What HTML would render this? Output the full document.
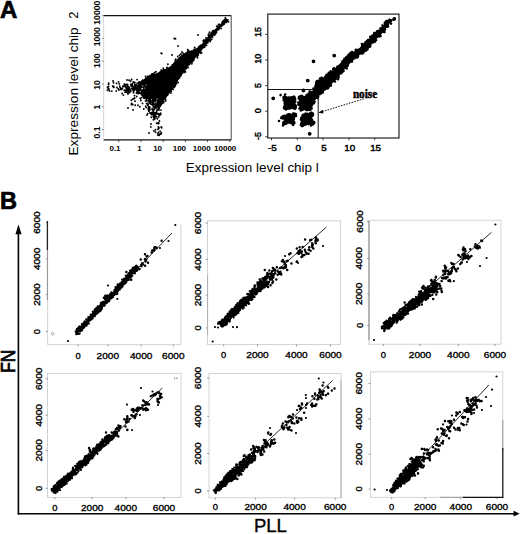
<!DOCTYPE html>
<html><head><meta charset="utf-8"><style>
html,body{margin:0;padding:0;background:#fff;}
body{width:520px;height:534px;overflow:hidden;}
svg{display:block;}
</style></head><body>
<svg width="520" height="534" viewBox="0 0 520 534">
<rect width="520" height="534" fill="#fff"/>
<text x="0.1" y="18.3" font-size="24.0" text-anchor="start" font-weight="bold" fill="#000" font-family="Liberation Sans, sans-serif" stroke="#000" stroke-width="0.7">A</text>
<text x="-0.1" y="208.6" font-size="23.5" text-anchor="start" font-weight="bold" fill="#000" font-family="Liberation Sans, sans-serif" stroke="#000" stroke-width="0.7">B</text>
<line x1="103.6" y1="15.6" x2="231.2" y2="15.6" stroke="#111" stroke-width="1.3"/>
<line x1="103.6" y1="139.9" x2="231.2" y2="139.9" stroke="#111" stroke-width="1.3"/>
<line x1="231.2" y1="15.6" x2="231.2" y2="139.9" stroke="#444" stroke-width="1.0"/>
<line x1="103.6" y1="15.6" x2="103.6" y2="139.9" stroke="#ccc" stroke-width="0.8"/>
<line x1="118.8" y1="139.9" x2="118.8" y2="142.1" stroke="#333" stroke-width="0.9"/>
<line x1="141.0" y1="139.9" x2="141.0" y2="142.1" stroke="#333" stroke-width="0.9"/>
<line x1="163.2" y1="139.9" x2="163.2" y2="142.1" stroke="#333" stroke-width="0.9"/>
<line x1="185.4" y1="139.9" x2="185.4" y2="142.1" stroke="#333" stroke-width="0.9"/>
<line x1="207.6" y1="139.9" x2="207.6" y2="142.1" stroke="#333" stroke-width="0.9"/>
<line x1="229.8" y1="139.9" x2="229.8" y2="142.1" stroke="#333" stroke-width="0.9"/>
<text x="115.0" y="151.0" font-size="8.0" text-anchor="middle" font-weight="bold" fill="#000" font-family="Liberation Sans, sans-serif">0.1</text>
<text x="139.6" y="151.0" font-size="8.0" text-anchor="middle" font-weight="bold" fill="#000" font-family="Liberation Sans, sans-serif">1</text>
<text x="157.6" y="151.0" font-size="8.0" text-anchor="middle" font-weight="bold" fill="#000" font-family="Liberation Sans, sans-serif">10</text>
<text x="179.4" y="151.0" font-size="8.0" text-anchor="middle" font-weight="bold" fill="#000" font-family="Liberation Sans, sans-serif">100</text>
<text x="201.7" y="151.0" font-size="8.0" text-anchor="middle" font-weight="bold" fill="#000" font-family="Liberation Sans, sans-serif">1000</text>
<text x="225.2" y="151.0" font-size="8.0" text-anchor="middle" font-weight="bold" fill="#000" font-family="Liberation Sans, sans-serif">10000</text>
<line x1="102.1" y1="129.6" x2="103.6" y2="129.6" stroke="#666" stroke-width="0.9"/>
<line x1="102.1" y1="106.8" x2="103.6" y2="106.8" stroke="#666" stroke-width="0.9"/>
<line x1="102.1" y1="84.0" x2="103.6" y2="84.0" stroke="#666" stroke-width="0.9"/>
<line x1="102.1" y1="61.199999999999996" x2="103.6" y2="61.199999999999996" stroke="#666" stroke-width="0.9"/>
<line x1="102.1" y1="38.39999999999999" x2="103.6" y2="38.39999999999999" stroke="#666" stroke-width="0.9"/>
<line x1="102.1" y1="15.599999999999994" x2="103.6" y2="15.599999999999994" stroke="#666" stroke-width="0.9"/>
<text x="99.6" y="132.5" font-size="8.6" text-anchor="middle" font-weight="bold" fill="#000" font-family="Liberation Sans, sans-serif" transform="rotate(-90 99.6 132.5)">0.1</text>
<text x="99.6" y="107.0" font-size="8.6" text-anchor="middle" font-weight="bold" fill="#000" font-family="Liberation Sans, sans-serif" transform="rotate(-90 99.6 107.0)">1</text>
<text x="99.6" y="85.0" font-size="8.6" text-anchor="middle" font-weight="bold" fill="#000" font-family="Liberation Sans, sans-serif" transform="rotate(-90 99.6 85.0)">10</text>
<text x="99.6" y="60.7" font-size="8.6" text-anchor="middle" font-weight="bold" fill="#000" font-family="Liberation Sans, sans-serif" transform="rotate(-90 99.6 60.7)">100</text>
<text x="99.6" y="36.8" font-size="8.6" text-anchor="middle" font-weight="bold" fill="#000" font-family="Liberation Sans, sans-serif" transform="rotate(-90 99.6 36.8)">1000</text>
<text x="99.6" y="12.7" font-size="8.6" text-anchor="middle" font-weight="bold" fill="#000" font-family="Liberation Sans, sans-serif" transform="rotate(-90 99.6 12.7)">10000</text>
<text x="78.3" y="155.5" font-size="12.6" text-anchor="start" font-weight="normal" fill="#000" font-family="Liberation Sans, sans-serif" transform="rotate(-90 78.3 155.5)" textLength="128.2" lengthAdjust="spacingAndGlyphs">Expression level chip</text>
<text x="78.3" y="18.7" font-size="12.6" text-anchor="start" font-weight="normal" fill="#000" font-family="Liberation Sans, sans-serif" transform="rotate(-90 78.3 18.7)" textLength="7.2" lengthAdjust="spacingAndGlyphs">2</text>
<text x="185.8" y="171.5" font-size="12.6" text-anchor="start" font-weight="normal" fill="#000" font-family="Liberation Sans, sans-serif" textLength="133" lengthAdjust="spacingAndGlyphs">Expression level chip l</text>
<rect x="267.8" y="14.1" width="131.2" height="123.9" fill="none" stroke="#111" stroke-width="1.1"/>
<polyline points="267.8,89.5 318.2,89.5 318.2,138.0" fill="none" stroke="#111" stroke-width="1.0"/>
<line x1="271.5" y1="138.0" x2="271.5" y2="140.2" stroke="#222" stroke-width="0.9"/>
<text x="272.4" y="150.8" font-size="9.8" text-anchor="middle" font-weight="normal" fill="#000" font-family="Liberation Sans, sans-serif" stroke="#000" stroke-width="0.45">-5</text>
<line x1="297.3" y1="138.0" x2="297.3" y2="140.2" stroke="#222" stroke-width="0.9"/>
<text x="298.2" y="150.8" font-size="9.8" text-anchor="middle" font-weight="normal" fill="#000" font-family="Liberation Sans, sans-serif" stroke="#000" stroke-width="0.45">0</text>
<line x1="323.1" y1="138.0" x2="323.1" y2="140.2" stroke="#222" stroke-width="0.9"/>
<text x="324.0" y="150.8" font-size="9.8" text-anchor="middle" font-weight="normal" fill="#000" font-family="Liberation Sans, sans-serif" stroke="#000" stroke-width="0.45">5</text>
<line x1="348.90000000000003" y1="138.0" x2="348.90000000000003" y2="140.2" stroke="#222" stroke-width="0.9"/>
<text x="349.8" y="150.8" font-size="9.8" text-anchor="middle" font-weight="normal" fill="#000" font-family="Liberation Sans, sans-serif" stroke="#000" stroke-width="0.45">10</text>
<line x1="374.70000000000005" y1="138.0" x2="374.70000000000005" y2="140.2" stroke="#222" stroke-width="0.9"/>
<text x="375.6" y="150.8" font-size="9.8" text-anchor="middle" font-weight="normal" fill="#000" font-family="Liberation Sans, sans-serif" stroke="#000" stroke-width="0.45">15</text>
<line x1="265.2" y1="136.8" x2="267.8" y2="136.8" stroke="#222" stroke-width="0.9"/>
<text x="261.0" y="136" font-size="9.0" text-anchor="middle" font-weight="normal" fill="#000" font-family="Liberation Sans, sans-serif" transform="rotate(-90 261.0 136)" stroke="#000" stroke-width="0.45">-5</text>
<line x1="265.2" y1="111.2" x2="267.8" y2="111.2" stroke="#222" stroke-width="0.9"/>
<text x="261.0" y="110.8" font-size="9.0" text-anchor="middle" font-weight="normal" fill="#000" font-family="Liberation Sans, sans-serif" transform="rotate(-90 261.0 110.8)" stroke="#000" stroke-width="0.45">0</text>
<line x1="265.2" y1="85.6" x2="267.8" y2="85.6" stroke="#222" stroke-width="0.9"/>
<text x="261.0" y="85.5" font-size="9.0" text-anchor="middle" font-weight="normal" fill="#000" font-family="Liberation Sans, sans-serif" transform="rotate(-90 261.0 85.5)" stroke="#000" stroke-width="0.45">5</text>
<line x1="265.2" y1="60.0" x2="267.8" y2="60.0" stroke="#222" stroke-width="0.9"/>
<text x="261.0" y="58.8" font-size="9.0" text-anchor="middle" font-weight="normal" fill="#000" font-family="Liberation Sans, sans-serif" transform="rotate(-90 261.0 58.8)" stroke="#000" stroke-width="0.45">10</text>
<line x1="265.2" y1="34.400000000000006" x2="267.8" y2="34.400000000000006" stroke="#222" stroke-width="0.9"/>
<text x="261.0" y="32" font-size="9.0" text-anchor="middle" font-weight="normal" fill="#000" font-family="Liberation Sans, sans-serif" transform="rotate(-90 261.0 32)" stroke="#000" stroke-width="0.45">15</text>
<text x="352.9" y="97.6" font-size="11.6" text-anchor="start" font-weight="bold" fill="#000" font-family="Liberation Serif, serif" textLength="24.2" lengthAdjust="spacingAndGlyphs" stroke="#000" stroke-width="0.45">noise</text>
<line x1="363.8" y1="98.8" x2="321.0" y2="112.0" stroke="#111" stroke-width="1.0" stroke-dasharray="1.6 1.2"/>
<polygon points="318.3,112.8 322.8,109.8 323.4,113.6" fill="#000"/>
<line x1="18.4" y1="232" x2="18.4" y2="514.4" stroke="#000" stroke-width="1.6"/>
<polygon points="18.5,224.6 15.4,234.2 21.6,234.2" fill="#000"/>
<line x1="17.6" y1="513.7" x2="514.5" y2="513.7" stroke="#000" stroke-width="1.6"/>
<polygon points="519.6,513.7 513.6,510.8 513.6,516.6" fill="#000"/>
<text x="15.4" y="361.3" font-size="19.5" text-anchor="middle" font-weight="normal" fill="#000" font-family="Liberation Sans, sans-serif" transform="rotate(-90 15.4 361.3)" textLength="23.0" lengthAdjust="spacingAndGlyphs" stroke="#000" stroke-width="0.75">FN</text>
<text x="253.9" y="532.3" font-size="19.2" text-anchor="start" font-weight="normal" fill="#000" font-family="Liberation Sans, sans-serif" textLength="33.0" lengthAdjust="spacingAndGlyphs" stroke="#000" stroke-width="0.4">PLL</text>
<polyline points="47.6,221.5 47.6,344.6 180.9,344.6 180.9,224.5" fill="none" stroke="#c8c8c8" stroke-width="0.8"/>
<text x="78.2" y="358.6" font-size="9.3" text-anchor="middle" font-weight="normal" fill="#000" font-family="Liberation Sans, sans-serif" stroke="#000" stroke-width="0.35">0</text>
<line x1="78.2" y1="344.6" x2="78.2" y2="346.40000000000003" stroke="#777" stroke-width="0.8"/>
<text x="107.8" y="358.6" font-size="9.3" text-anchor="middle" font-weight="normal" fill="#000" font-family="Liberation Sans, sans-serif" textLength="22.4" lengthAdjust="spacingAndGlyphs" stroke="#000" stroke-width="0.35">2000</text>
<line x1="107.8" y1="344.6" x2="107.8" y2="346.40000000000003" stroke="#777" stroke-width="0.8"/>
<text x="141.2" y="358.6" font-size="9.3" text-anchor="middle" font-weight="normal" fill="#000" font-family="Liberation Sans, sans-serif" textLength="22.4" lengthAdjust="spacingAndGlyphs" stroke="#000" stroke-width="0.35">4000</text>
<line x1="141.2" y1="344.6" x2="141.2" y2="346.40000000000003" stroke="#777" stroke-width="0.8"/>
<text x="173.3" y="358.6" font-size="9.3" text-anchor="middle" font-weight="normal" fill="#000" font-family="Liberation Sans, sans-serif" textLength="22.4" lengthAdjust="spacingAndGlyphs" stroke="#000" stroke-width="0.35">6000</text>
<line x1="173.3" y1="344.6" x2="173.3" y2="346.40000000000003" stroke="#777" stroke-width="0.8"/>
<text x="40.0" y="331.6" font-size="9.3" text-anchor="middle" font-weight="normal" fill="#000" font-family="Liberation Sans, sans-serif" transform="rotate(-90 40.0 331.6)" stroke="#000" stroke-width="0.35">0</text>
<line x1="45.800000000000004" y1="331.6" x2="47.6" y2="331.6" stroke="#777" stroke-width="0.8"/>
<text x="40.0" y="294.6" font-size="9.3" text-anchor="middle" font-weight="normal" fill="#000" font-family="Liberation Sans, sans-serif" transform="rotate(-90 40.0 294.6)" textLength="22.4" lengthAdjust="spacingAndGlyphs" stroke="#000" stroke-width="0.35">2000</text>
<line x1="45.800000000000004" y1="294.6" x2="47.6" y2="294.6" stroke="#777" stroke-width="0.8"/>
<text x="40.0" y="258.9" font-size="9.3" text-anchor="middle" font-weight="normal" fill="#000" font-family="Liberation Sans, sans-serif" transform="rotate(-90 40.0 258.9)" textLength="22.4" lengthAdjust="spacingAndGlyphs" stroke="#000" stroke-width="0.35">4000</text>
<line x1="45.800000000000004" y1="258.9" x2="47.6" y2="258.9" stroke="#777" stroke-width="0.8"/>
<text x="40.0" y="222.6" font-size="9.3" text-anchor="middle" font-weight="normal" fill="#000" font-family="Liberation Sans, sans-serif" transform="rotate(-90 40.0 222.6)" textLength="22.4" lengthAdjust="spacingAndGlyphs" stroke="#000" stroke-width="0.35">6000</text>
<line x1="45.800000000000004" y1="222.6" x2="47.6" y2="222.6" stroke="#777" stroke-width="0.8"/>
<path d="M125.6 278.4h0M112.6 295.4h0M94.8 316.3h0M77.3 330.0h0M133.8 269.2h0M110.6 293.6h0M123.9 282.3h0M132.4 275.5h0M116.0 287.4h0M87.4 321.5h0M136.7 270.9h0M92.5 314.7h0M114.4 293.0h0M111.4 296.2h0M111.5 294.0h0M109.0 299.5h0M136.1 268.6h0M106.0 300.8h0M122.0 282.9h0M106.9 302.5h0M136.0 268.3h0M134.0 268.8h0M99.1 307.6h0M95.6 313.0h0M128.1 277.5h0M122.7 280.1h0M118.3 289.1h0M99.4 306.0h0M97.7 306.7h0M83.6 325.0h0M113.8 293.0h0M81.9 329.4h0M91.4 314.9h0M115.0 290.4h0M77.9 333.9h0M126.0 278.9h0M81.4 330.2h0M108.1 300.0h0M107.4 296.7h0M88.9 318.3h0M134.2 271.7h0M94.6 309.8h0M107.1 301.4h0M127.9 276.6h0M114.6 289.9h0M101.0 310.3h0M80.9 326.9h0M132.8 270.4h0M111.1 294.8h0M110.6 295.3h0M112.4 295.1h0M85.3 324.5h0M107.7 295.3h0M110.9 297.8h0M111.9 296.6h0M88.0 322.6h0M119.1 287.6h0M78.7 328.1h0M96.2 313.2h0M82.0 326.6h0M119.9 283.7h0M106.1 300.9h0M104.6 303.8h0M79.5 328.3h0M101.5 303.9h0M90.0 319.8h0M95.2 314.9h0M99.1 307.5h0M118.6 287.5h0M123.2 282.1h0M98.7 311.6h0M116.5 290.0h0M104.9 298.8h0M115.5 289.0h0M97.0 313.3h0M131.2 275.9h0M117.0 291.4h0M87.3 321.2h0M109.7 295.3h0M121.6 285.2h0M122.7 282.4h0M102.0 304.9h0M92.0 315.0h0M113.3 293.6h0M119.0 285.1h0M106.1 300.2h0M89.0 323.5h0M112.8 293.4h0M122.8 284.9h0M131.1 273.8h0M136.1 268.7h0M98.3 309.9h0M126.2 282.5h0M117.7 288.8h0M134.6 270.0h0M106.7 300.6h0M127.2 276.8h0M107.4 301.8h0M92.5 314.3h0M132.2 269.3h0M93.3 315.5h0M95.1 313.9h0M78.4 329.0h0M76.3 334.2h0M96.5 311.4h0M90.7 314.7h0M117.7 284.3h0M77.2 333.3h0M129.5 275.2h0M125.8 280.8h0M129.3 272.8h0M123.2 284.4h0M115.6 290.7h0M122.3 284.0h0M130.6 277.6h0M127.2 277.6h0M92.1 316.0h0M132.7 270.8h0M134.2 267.3h0M117.5 288.1h0M111.4 292.3h0M111.8 292.6h0M115.5 287.2h0M131.1 274.8h0M94.5 313.5h0M101.2 308.6h0M94.4 312.7h0M119.0 286.0h0M77.4 331.1h0M99.3 306.5h0M101.9 308.8h0M97.7 306.3h0M111.3 297.6h0M91.9 318.8h0M129.1 274.8h0M98.8 309.2h0M134.9 272.1h0M131.8 272.6h0M95.0 309.3h0M97.5 309.1h0M114.4 294.2h0M98.9 307.0h0M83.7 328.0h0M92.5 315.0h0M87.9 322.4h0M100.8 305.8h0M128.8 274.7h0M103.8 302.8h0M76.8 329.2h0M122.6 283.8h0M125.8 275.5h0M128.9 275.6h0M100.0 305.4h0M94.1 314.8h0M135.5 270.9h0M98.8 308.9h0M109.2 296.9h0M135.1 269.5h0M127.6 278.2h0M130.3 275.9h0M130.7 272.9h0M119.8 288.1h0M94.6 311.5h0M87.2 321.4h0M122.6 286.5h0M110.6 296.4h0M81.8 329.1h0M128.3 277.3h0M81.8 328.2h0M128.5 279.9h0M124.0 281.3h0M133.3 268.1h0M92.4 315.6h0M77.8 332.4h0M106.5 299.4h0M131.5 271.9h0M134.0 272.6h0M97.8 311.1h0M101.0 309.5h0M134.0 270.8h0M124.1 279.0h0M132.1 271.9h0M124.3 280.4h0M106.3 300.1h0M85.0 325.6h0M105.7 298.0h0M81.3 327.9h0M124.5 283.7h0M117.5 286.3h0M111.6 296.3h0M97.5 310.5h0M118.0 284.7h0M101.3 304.4h0M104.0 305.8h0M112.1 293.0h0M112.7 293.8h0M89.0 319.6h0M119.1 284.5h0M88.1 322.9h0M124.6 282.3h0M93.6 315.4h0M105.7 301.1h0M116.7 287.6h0M102.0 303.6h0M106.3 302.5h0M79.3 326.5h0M123.4 283.7h0M103.0 304.9h0M109.6 298.0h0M88.1 320.7h0M114.8 289.5h0M78.9 329.2h0M86.6 322.1h0M117.7 289.0h0M119.2 288.8h0M106.9 300.6h0M90.0 319.6h0M133.1 269.8h0M81.8 329.3h0M91.1 318.4h0M125.1 283.5h0M123.5 283.7h0M111.4 295.1h0M106.4 298.5h0M98.3 312.5h0M84.7 322.7h0M115.0 291.7h0M101.0 308.5h0M123.2 283.6h0M84.6 322.6h0M99.5 306.3h0M114.5 293.8h0M103.0 305.7h0M79.6 333.8h0M107.7 297.7h0M79.8 326.7h0M75.9 331.9h0M88.3 318.8h0M86.6 321.6h0M120.2 286.0h0M118.3 288.1h0M123.2 281.6h0M123.0 280.9h0M133.4 271.4h0M102.5 303.9h0M129.0 277.5h0M114.3 291.3h0M114.3 290.8h0M87.3 323.9h0M129.6 277.3h0M121.4 287.2h0M111.8 292.9h0M94.3 315.9h0M92.8 318.2h0M117.5 288.8h0M123.9 279.6h0M123.7 281.3h0M77.7 333.4h0M129.8 275.1h0M107.2 299.9h0M90.0 320.5h0M121.5 287.7h0M123.7 284.4h0M130.9 272.0h0M102.0 302.4h0M114.3 295.1h0M135.6 271.1h0M101.6 305.8h0M81.9 324.4h0M121.4 286.8h0M124.8 279.4h0M108.9 296.3h0M103.7 303.2h0M90.0 318.8h0M131.7 269.8h0M128.3 274.1h0M78.7 331.0h0M84.5 324.7h0M101.5 303.0h0M113.0 297.1h0M113.9 294.6h0M95.9 313.1h0M87.5 322.6h0M78.2 327.8h0M128.3 276.6h0M113.5 293.7h0M97.6 310.4h0M124.0 281.8h0M124.4 281.9h0M106.6 303.2h0M123.8 283.5h0M125.5 278.6h0M101.9 307.6h0M76.8 332.2h0M118.7 287.4h0M92.6 316.4h0M88.5 320.3h0M87.6 320.9h0M111.0 296.1h0M77.0 333.6h0M122.1 279.5h0M102.5 304.6h0M93.4 313.3h0M121.0 287.4h0M135.2 269.2h0M96.6 309.9h0M114.6 292.4h0M95.6 312.7h0M107.2 300.7h0M100.8 302.9h0M121.0 283.8h0M90.0 316.7h0M109.5 299.8h0M77.3 334.0h0M124.0 280.7h0M97.4 310.2h0M102.2 305.0h0M91.7 315.8h0M85.4 321.8h0M88.3 318.0h0M103.6 305.8h0M128.2 274.7h0M116.0 290.7h0M99.8 309.4h0M85.4 324.7h0M117.8 287.9h0M122.9 283.5h0M125.0 279.0h0M82.8 324.6h0M83.4 327.5h0M112.3 295.3h0M130.1 276.6h0M118.8 286.9h0M132.7 267.9h0M133.2 270.2h0M122.2 281.8h0M85.0 326.0h0M99.0 307.1h0M118.3 289.2h0M121.5 284.4h0M118.3 288.1h0M128.7 276.6h0M128.6 277.3h0M119.7 284.0h0M101.0 308.8h0M84.6 321.4h0M100.9 305.2h0M87.2 320.3h0M106.1 302.3h0M90.7 316.3h0M86.6 325.7h0M130.2 272.6h0M109.2 301.2h0M123.6 282.9h0M127.8 278.7h0M111.7 295.5h0M108.3 300.2h0M121.5 282.6h0M84.1 322.5h0M97.6 311.9h0M127.0 279.2h0M124.3 280.7h0M81.0 328.1h0M130.7 273.6h0M92.0 316.8h0M111.0 297.3h0M88.7 319.4h0M80.9 329.3h0M129.4 277.5h0M118.9 286.5h0M80.3 330.5h0M121.4 283.0h0M119.6 286.2h0M130.4 273.7h0M134.5 271.9h0M131.1 272.8h0M95.5 310.4h0M109.7 297.5h0M127.5 276.5h0M92.7 318.3h0M122.6 283.5h0M104.0 302.5h0M93.8 312.4h0M78.8 331.1h0M111.0 295.2h0M135.1 268.7h0M83.1 326.4h0M117.0 292.7h0M119.1 285.2h0M114.2 292.5h0M126.6 280.0h0M109.7 299.3h0M98.2 309.4h0M90.4 318.7h0M117.1 288.4h0M100.1 311.3h0M125.5 278.5h0M111.2 295.9h0M89.0 318.3h0M106.6 301.7h0M78.8 329.7h0M82.2 330.3h0M104.1 302.1h0M111.2 295.1h0M134.7 269.4h0M77.6 332.9h0M94.3 312.8h0M88.4 317.0h0M96.4 308.0h0M84.3 324.5h0M84.2 327.1h0M90.9 319.7h0M85.9 324.0h0M113.2 295.0h0M103.0 304.3h0M130.9 273.4h0M129.5 276.2h0M122.5 285.5h0M122.1 286.0h0M103.7 304.4h0M108.4 295.9h0M111.6 293.7h0M130.1 270.7h0M92.5 317.9h0M111.9 294.5h0M134.8 271.9h0M118.1 290.3h0M112.3 293.8h0M93.5 316.0h0M101.5 306.0h0M105.1 299.2h0M83.5 326.7h0M95.2 313.3h0M105.0 302.5h0M116.9 292.2h0M132.4 270.3h0M75.7 331.4h0M103.9 305.2h0M81.4 330.5h0M115.8 291.4h0M85.8 323.5h0M94.0 314.8h0M109.0 298.2h0M122.5 283.1h0M100.1 307.0h0M91.6 319.2h0M92.9 314.4h0M101.0 304.1h0M119.6 286.1h0M128.3 275.2h0M134.1 268.4h0M131.5 274.0h0M132.5 269.7h0M103.5 302.0h0M98.8 307.8h0M103.9 301.7h0M98.9 308.0h0M109.2 296.9h0M110.3 293.9h0M79.2 327.9h0M137.6 269.9h0M121.3 284.5h0M90.3 317.5h0M119.1 287.5h0M134.8 269.7h0M104.9 302.5h0M88.0 320.1h0M109.3 296.8h0M98.7 308.2h0M118.0 290.9h0M83.9 324.8h0M123.0 283.2h0M88.4 321.4h0M117.5 285.0h0M80.2 331.5h0M126.8 278.6h0M82.2 323.8h0M119.6 288.8h0M104.9 304.0h0M92.7 316.1h0M110.3 295.1h0M131.3 271.5h0M106.3 300.4h0M129.6 274.2h0M128.0 278.6h0M97.5 311.5h0M124.3 282.9h0M120.0 285.9h0M104.1 302.8h0M123.6 281.2h0M120.3 284.8h0M80.7 328.6h0M127.4 278.1h0M101.8 306.1h0M129.4 275.3h0M131.5 276.7h0M101.3 306.4h0M88.0 321.4h0M91.6 316.5h0M124.7 282.3h0M98.9 310.4h0M129.0 275.9h0M98.2 311.6h0M86.2 324.0h0M124.2 278.6h0M103.1 301.8h0M118.4 285.6h0M121.4 284.2h0M84.0 323.8h0M117.7 285.1h0M78.2 330.3h0M112.0 294.3h0M130.2 274.2h0M88.7 320.2h0M115.1 290.6h0M130.1 274.8h0M126.6 277.9h0M82.7 325.1h0M108.4 295.8h0M83.7 325.4h0M96.7 312.2h0M107.1 298.5h0M125.6 278.3h0M132.9 272.9h0M104.7 305.6h0M96.7 313.9h0M89.9 317.6h0M84.4 323.3h0M114.2 291.4h0M85.5 323.8h0M110.3 296.8h0M95.9 308.5h0M80.7 331.2h0M92.3 317.7h0M97.9 309.0h0M84.3 325.8h0M91.9 315.2h0M107.8 298.8h0M111.8 297.2h0M79.7 327.4h0M83.7 324.4h0M104.2 301.9h0M82.6 326.0h0M103.5 304.2h0M123.7 281.3h0M111.5 298.3h0M92.9 313.6h0M111.3 296.5h0M79.4 329.5h0M103.6 304.3h0M119.9 285.4h0M88.8 319.2h0M129.1 274.5h0M114.9 290.6h0M77.1 330.8h0M123.5 280.5h0M92.8 311.7h0M116.9 288.4h0M130.5 272.4h0M112.4 293.3h0M88.7 318.4h0M108.1 300.6h0M134.5 269.3h0M103.5 303.4h0M80.8 331.1h0M126.5 276.6h0M131.5 273.2h0M84.1 322.6h0M82.2 325.5h0M109.6 295.5h0M116.9 292.3h0M123.5 280.5h0M112.1 295.7h0M79.6 331.1h0M107.4 302.2h0M123.2 281.7h0M126.3 276.3h0M124.2 278.9h0M97.5 313.1h0M113.7 293.8h0M127.1 280.6h0M130.8 276.8h0M96.6 312.1h0M78.9 330.9h0M114.1 293.3h0M94.8 311.0h0M88.1 320.1h0M92.9 315.5h0M104.1 304.7h0M79.2 327.3h0M86.2 319.4h0M84.3 327.2h0M113.4 294.0h0M76.3 332.9h0M90.9 316.7h0M84.1 325.1h0M79.2 327.4h0M124.5 279.1h0M82.9 328.3h0M128.9 277.7h0M175.3 225.0h0M168.5 241.0h0M108.0 285.5h0M117.3 299.0h0M131.0 270.8h0M68.0 341.0h0M160.0 248.0h0" stroke="#000" stroke-width="2.2" stroke-linecap="round" fill="none" opacity="1"/>
<path d="M141.4 266.3h0M139.5 268.9h0M152.3 250.6h0M154.1 250.6h0M154.2 249.4h0M145.1 265.8h0M143.1 264.3h0M137.7 267.1h0M136.6 266.0h0M136.9 267.7h0M137.8 268.2h0M146.3 259.8h0M145.2 259.8h0M145.0 259.3h0M144.9 259.3h0M151.7 252.4h0M145.0 254.3h0M155.7 247.5h0M155.4 247.2h0M154.4 247.4h0M156.9 248.1h0M161.6 240.7h0M145.6 261.4h0M148.0 262.7h0M140.8 259.4h0M147.4 256.0h0M146.6 256.6h0M134.8 267.5h0M136.4 267.0h0M135.0 268.6h0M136.1 266.1h0M142.0 263.4h0M142.1 264.2h0M142.1 263.6h0M141.1 265.2h0M105.1 298.2h0M103.9 297.7h0M118.4 289.2h0M116.1 289.1h0M132.4 272.4h0M134.7 273.2h0M120.4 283.9h0M121.9 281.9h0M130.4 279.4h0M131.2 279.8h0M117.1 293.3h0M117.1 291.3h0M116.2 294.0h0M108.8 298.4h0M108.5 296.9h0M106.8 296.0h0M105.3 295.8h0M129.1 276.8h0M128.0 275.5h0M129.5 273.3h0M126.4 272.1h0M113.2 294.4h0M113.2 295.2h0M122.1 283.6h0M123.2 281.9h0M117.3 293.5h0M116.3 292.2h0M116.2 289.9h0M119.6 289.5h0M126.8 277.2h0M128.0 274.9h0M127.7 278.1h0M107.0 296.2h0M107.2 297.1h0" stroke="#000" stroke-width="2.5" stroke-linecap="round" fill="none" opacity="1"/>
<line x1="105" y1="302" x2="172" y2="233" stroke="#111" stroke-width="0.9"/>
<rect x="207.6" y="220.8" width="132.79999999999998" height="123.80000000000001" fill="none" stroke="#c8c8c8" stroke-width="0.8"/>
<text x="223.7" y="358.4" font-size="9.3" text-anchor="middle" font-weight="normal" fill="#000" font-family="Liberation Sans, sans-serif" stroke="#000" stroke-width="0.35">0</text>
<line x1="223.7" y1="344.6" x2="223.7" y2="346.40000000000003" stroke="#777" stroke-width="0.8"/>
<text x="257.5" y="358.4" font-size="9.3" text-anchor="middle" font-weight="normal" fill="#000" font-family="Liberation Sans, sans-serif" textLength="22.4" lengthAdjust="spacingAndGlyphs" stroke="#000" stroke-width="0.35">2000</text>
<line x1="257.5" y1="344.6" x2="257.5" y2="346.40000000000003" stroke="#777" stroke-width="0.8"/>
<text x="296.5" y="358.4" font-size="9.3" text-anchor="middle" font-weight="normal" fill="#000" font-family="Liberation Sans, sans-serif" textLength="22.4" lengthAdjust="spacingAndGlyphs" stroke="#000" stroke-width="0.35">4000</text>
<line x1="296.5" y1="344.6" x2="296.5" y2="346.40000000000003" stroke="#777" stroke-width="0.8"/>
<text x="330.5" y="358.4" font-size="9.3" text-anchor="middle" font-weight="normal" fill="#000" font-family="Liberation Sans, sans-serif" textLength="22.4" lengthAdjust="spacingAndGlyphs" stroke="#000" stroke-width="0.35">6000</text>
<line x1="330.5" y1="344.6" x2="330.5" y2="346.40000000000003" stroke="#777" stroke-width="0.8"/>
<text x="201.4" y="328.0" font-size="9.3" text-anchor="middle" font-weight="normal" fill="#000" font-family="Liberation Sans, sans-serif" transform="rotate(-90 201.4 328.0)" stroke="#000" stroke-width="0.35">0</text>
<line x1="205.79999999999998" y1="328.0" x2="207.6" y2="328.0" stroke="#777" stroke-width="0.8"/>
<text x="201.4" y="295.1" font-size="9.3" text-anchor="middle" font-weight="normal" fill="#000" font-family="Liberation Sans, sans-serif" transform="rotate(-90 201.4 295.1)" textLength="22.4" lengthAdjust="spacingAndGlyphs" stroke="#000" stroke-width="0.35">2000</text>
<line x1="205.79999999999998" y1="295.1" x2="207.6" y2="295.1" stroke="#777" stroke-width="0.8"/>
<text x="201.4" y="259.5" font-size="9.3" text-anchor="middle" font-weight="normal" fill="#000" font-family="Liberation Sans, sans-serif" transform="rotate(-90 201.4 259.5)" textLength="22.4" lengthAdjust="spacingAndGlyphs" stroke="#000" stroke-width="0.35">4000</text>
<line x1="205.79999999999998" y1="259.5" x2="207.6" y2="259.5" stroke="#777" stroke-width="0.8"/>
<text x="201.4" y="223.0" font-size="9.3" text-anchor="middle" font-weight="normal" fill="#000" font-family="Liberation Sans, sans-serif" transform="rotate(-90 201.4 223.0)" textLength="22.4" lengthAdjust="spacingAndGlyphs" stroke="#000" stroke-width="0.35">6000</text>
<line x1="205.79999999999998" y1="223.0" x2="207.6" y2="223.0" stroke="#777" stroke-width="0.8"/>
<path d="M260.3 285.6h0M235.3 310.6h0M254.6 293.5h0M244.9 300.3h0M231.7 312.6h0M261.3 288.5h0M257.0 288.7h0M234.9 309.7h0M259.2 282.0h0M227.9 314.7h0M254.4 291.5h0M249.7 297.5h0M238.0 303.7h0M221.3 324.7h0M258.9 288.4h0M244.0 301.0h0M236.9 309.5h0M237.1 312.8h0M247.1 297.3h0M232.8 309.1h0M241.4 304.0h0M234.8 309.1h0M222.3 323.6h0M231.7 316.3h0M257.4 291.5h0M255.6 291.7h0M250.6 299.5h0M240.7 306.5h0M263.1 286.2h0M256.6 290.8h0M230.9 316.0h0M243.8 301.2h0M261.1 285.4h0M253.0 291.9h0M235.5 309.9h0M240.3 306.1h0M243.8 305.5h0M258.5 287.3h0M251.6 296.5h0M235.5 307.5h0M239.5 306.0h0M225.6 323.7h0M241.6 305.6h0M227.5 313.9h0M224.0 322.0h0M223.6 321.8h0M227.8 315.3h0M247.8 294.0h0M226.5 317.2h0M243.1 300.4h0M246.9 301.3h0M262.3 285.7h0M240.5 307.4h0M254.7 294.5h0M219.0 322.0h0M247.4 298.3h0M262.6 284.8h0M221.2 323.1h0M258.2 286.6h0M225.7 318.4h0M249.3 297.5h0M221.0 324.9h0M224.2 325.0h0M226.3 320.8h0M259.1 288.0h0M253.7 292.7h0M247.4 296.8h0M248.1 298.6h0M233.7 314.6h0M243.3 304.2h0M239.4 304.1h0M258.9 283.6h0M240.5 307.6h0M252.4 294.5h0M235.8 311.2h0M258.7 285.5h0M257.7 290.8h0M263.6 284.8h0M229.5 316.0h0M258.2 289.8h0M239.4 304.6h0M241.8 304.3h0M240.7 300.4h0M223.6 321.8h0M260.5 291.2h0M246.9 301.3h0M226.8 323.8h0M252.6 295.4h0M225.2 321.5h0M236.7 310.1h0M248.3 297.1h0M241.0 307.2h0M221.9 322.4h0M246.9 299.7h0M238.4 313.0h0M237.1 310.5h0M226.5 318.5h0M229.3 319.6h0M263.4 284.5h0M245.7 300.0h0M243.9 299.6h0M253.4 292.7h0M236.0 309.2h0M226.8 319.6h0M246.7 300.8h0M237.9 309.2h0M236.2 307.7h0M224.5 323.0h0M238.7 308.7h0M220.4 322.0h0M259.3 288.2h0M236.1 310.0h0M251.3 296.2h0M243.9 299.6h0M238.6 306.9h0M234.3 311.3h0M219.8 323.1h0M248.9 298.9h0M223.9 321.4h0M230.6 316.6h0M259.9 283.9h0M234.4 308.2h0M234.1 309.1h0M247.0 294.0h0M230.6 313.6h0M236.4 310.9h0M235.1 314.9h0M251.5 298.1h0M225.1 324.5h0M238.1 311.6h0M265.6 286.3h0M247.9 299.1h0M241.7 307.1h0M233.4 314.6h0M218.4 322.5h0M259.4 287.6h0M259.8 287.0h0M262.7 285.0h0M240.0 305.0h0M244.6 299.9h0M231.8 313.1h0M256.7 291.9h0M245.7 301.9h0M234.8 315.4h0M231.1 311.8h0M236.9 312.4h0M251.4 300.1h0M251.9 292.1h0M224.6 321.8h0M257.8 284.4h0M249.7 291.3h0M252.8 290.0h0M228.6 317.7h0M226.4 320.2h0M251.0 294.3h0M261.3 287.0h0M235.4 311.7h0M226.8 324.3h0M232.2 310.2h0M254.8 289.2h0M254.6 290.2h0M229.2 315.2h0M226.0 318.8h0M243.9 307.6h0M233.3 311.9h0M257.5 290.7h0M238.1 304.3h0M228.8 315.4h0M239.6 308.8h0M230.9 317.9h0M248.1 293.9h0M264.5 287.4h0M246.7 300.7h0M229.2 314.9h0M255.6 292.1h0M234.8 309.6h0M221.9 320.3h0M226.9 319.7h0M237.1 311.4h0M257.4 292.0h0M227.5 314.1h0M252.3 291.4h0M223.3 322.2h0M257.6 291.8h0M252.5 297.4h0M223.3 321.7h0M220.2 322.6h0M231.6 316.1h0M227.1 317.7h0M248.4 299.1h0M241.7 307.4h0M245.5 302.5h0M230.9 312.5h0M260.3 282.7h0M222.4 319.6h0M249.5 298.9h0M244.4 305.0h0M261.1 282.5h0M260.3 284.6h0M239.3 304.3h0M239.0 306.7h0M234.2 309.6h0M226.2 317.5h0M251.0 298.7h0M259.4 289.6h0M240.5 305.8h0M261.0 288.6h0M229.7 314.7h0M232.1 315.2h0M259.7 284.0h0M258.4 285.8h0M243.3 305.5h0M242.0 300.9h0M234.5 310.3h0M219.6 323.1h0M234.3 308.3h0M262.3 284.0h0M241.8 304.4h0M252.5 289.5h0M229.5 321.7h0M253.5 296.8h0M244.0 299.5h0M262.9 284.5h0M233.5 312.8h0M239.1 305.2h0M229.8 312.6h0M251.6 294.5h0M222.6 322.7h0M252.9 296.4h0M255.9 290.6h0M229.2 313.9h0M234.3 309.7h0M234.7 311.1h0M258.9 290.0h0M225.0 317.6h0M259.5 287.4h0M225.6 323.7h0M219.5 322.3h0M256.7 293.3h0M221.9 322.4h0M244.2 301.6h0M241.4 303.1h0M258.5 288.7h0M249.6 297.9h0M262.9 284.9h0M251.9 299.7h0M231.8 309.2h0M259.5 285.3h0M221.5 320.8h0M248.9 296.6h0M223.6 320.3h0M227.3 317.9h0M236.5 309.4h0M240.6 303.9h0M223.4 324.9h0M235.4 306.7h0M242.3 302.4h0M231.9 314.1h0M239.2 310.5h0M251.6 290.9h0M226.5 316.2h0M233.9 313.5h0M231.9 314.3h0M228.7 313.4h0M223.1 325.9h0M261.4 285.6h0M241.4 303.9h0M233.6 311.6h0M257.9 288.7h0M220.4 324.5h0M224.9 321.9h0M221.2 325.6h0M219.8 323.2h0M218.0 323.8h0M248.3 302.3h0M250.1 294.7h0M237.5 313.2h0M260.1 286.7h0M249.9 291.2h0M262.8 284.4h0M251.8 292.1h0M239.9 301.2h0M222.3 323.6h0M223.6 319.4h0M233.7 311.8h0M227.3 321.7h0M248.4 299.9h0M223.0 323.1h0M243.4 303.0h0M235.7 310.6h0M235.6 308.7h0M222.0 321.2h0M250.2 294.7h0M252.9 293.6h0M232.6 311.3h0M235.7 309.6h0M249.7 296.5h0M224.3 319.0h0M247.7 301.2h0M236.3 313.0h0M250.2 296.4h0M245.9 297.6h0M230.8 310.1h0M229.5 311.5h0M238.3 310.8h0M232.9 313.6h0M251.7 292.8h0M251.8 290.2h0M240.9 304.6h0M231.3 317.0h0M241.5 305.4h0M251.0 292.3h0M246.1 305.5h0M221.2 325.9h0M222.0 320.5h0M236.9 310.0h0M256.7 290.6h0M239.2 308.7h0M247.2 299.9h0M242.5 300.2h0M223.9 323.0h0M239.3 304.5h0M238.6 307.7h0M239.5 306.4h0M260.0 288.1h0M233.1 313.5h0M261.5 283.9h0M242.9 308.6h0M240.0 305.2h0M250.0 295.1h0M241.0 306.2h0M223.1 324.0h0M245.4 303.4h0M221.8 320.3h0M259.1 285.6h0M234.8 314.2h0M260.4 286.6h0M242.6 304.3h0M251.6 290.8h0M239.8 302.4h0M227.9 315.9h0M263.1 283.8h0M248.2 300.0h0M240.5 308.0h0M257.8 283.3h0M243.7 302.2h0M237.5 308.7h0M227.9 316.9h0M233.7 311.2h0M253.3 289.9h0M226.4 318.5h0M237.3 303.7h0M249.2 300.3h0M239.2 307.3h0M239.0 310.9h0M220.4 323.2h0M252.6 288.8h0M225.4 325.1h0M236.0 305.0h0M221.9 320.7h0M234.4 313.5h0M255.4 294.6h0M258.7 285.6h0M221.3 323.9h0M232.5 312.7h0M250.2 297.3h0M234.7 308.9h0M263.2 284.8h0M227.2 321.0h0M225.7 319.9h0M251.3 295.1h0M252.5 299.2h0M260.6 286.5h0M222.6 322.2h0M222.0 326.6h0M227.0 322.1h0M258.6 285.8h0M237.3 306.2h0M240.3 309.6h0M233.1 316.1h0M230.0 319.4h0M227.1 323.1h0M250.8 292.4h0M219.7 322.0h0M253.2 295.8h0M242.7 305.9h0M227.9 318.5h0M230.7 317.2h0M220.8 323.1h0M254.8 288.8h0M245.5 300.4h0M252.1 295.3h0M243.9 303.9h0M222.4 323.3h0M251.3 296.6h0M259.8 289.8h0M231.9 315.3h0M236.1 308.7h0M264.9 286.1h0M244.9 298.1h0M225.8 320.7h0M229.9 321.1h0M233.6 317.6h0M262.0 288.7h0M254.1 291.0h0M218.4 323.0h0M243.5 301.4h0M228.5 317.4h0M230.9 315.5h0M241.3 302.2h0M227.6 317.1h0M249.8 297.1h0M221.7 324.4h0M223.0 326.3h0M233.2 314.4h0M224.7 322.8h0M256.0 288.9h0M253.2 293.4h0M241.5 299.6h0M251.0 294.2h0M218.4 323.5h0M230.5 316.0h0M243.0 304.7h0M254.8 292.0h0M247.4 302.9h0M233.4 311.0h0M230.6 315.2h0M256.2 288.7h0M243.5 301.9h0M258.5 291.5h0M222.7 319.8h0M256.7 294.1h0M224.7 324.8h0M235.8 311.9h0M236.8 308.5h0M223.1 323.6h0M259.4 286.0h0M239.8 310.3h0M221.3 321.8h0M248.4 295.3h0M234.4 311.8h0M243.2 297.9h0M250.6 299.6h0M261.3 284.3h0M245.7 302.5h0M247.9 298.9h0M258.9 282.8h0M234.0 312.3h0M234.8 312.4h0M249.0 294.2h0M246.4 297.3h0M232.8 310.6h0M261.2 287.3h0M260.4 282.7h0M261.5 282.5h0M249.9 296.3h0M255.9 290.8h0M257.9 286.9h0M247.8 302.6h0M261.1 289.7h0M242.0 300.9h0M236.3 314.5h0M242.9 304.5h0M227.8 320.0h0M262.8 285.7h0M225.1 317.3h0M232.7 310.2h0M226.0 321.3h0M254.7 289.8h0M254.6 297.1h0M255.7 289.4h0M260.9 288.0h0M252.3 291.4h0M248.5 303.1h0M252.4 298.9h0M254.5 287.8h0M227.3 319.7h0M230.0 316.3h0M246.9 303.4h0M237.8 303.2h0M259.7 285.8h0M235.3 313.1h0M222.5 322.6h0M231.4 313.0h0M225.7 316.4h0M238.6 308.3h0M224.2 321.1h0M244.7 297.5h0M236.7 309.6h0M228.8 315.2h0M258.4 288.5h0M263.4 284.9h0M250.8 298.2h0M224.9 321.8h0M241.2 302.2h0M249.7 295.8h0M239.5 305.5h0M228.5 320.1h0M233.9 310.2h0M260.4 289.9h0M221.6 324.1h0M223.0 324.6h0M249.3 295.6h0M257.2 292.3h0M245.6 298.9h0M260.8 289.8h0M242.5 304.6h0M248.9 299.3h0M239.2 308.3h0M252.9 291.2h0M223.2 326.2h0M234.7 307.2h0M235.6 310.6h0M225.6 322.3h0M241.8 307.0h0M251.1 293.4h0M225.6 318.9h0M262.3 283.3h0M227.2 316.1h0M258.3 287.3h0M316.0 238.0h0M323.0 246.0h0M298.0 263.0h0M212.7 341.5h0M215.0 327.0h0M218.0 327.5h0M233.0 327.0h0M237.0 327.2h0M312.0 243.0h0M300.0 252.0h0M285.0 256.0h0" stroke="#000" stroke-width="2.2" stroke-linecap="round" fill="none" opacity="1"/>
<path d="M272.9 268.0h0M273.3 274.5h0M273.6 275.1h0M261.4 284.3h0M263.0 283.1h0M263.5 283.2h0M269.0 282.1h0M280.3 271.8h0M281.2 274.4h0M279.4 273.8h0M281.1 273.6h0M266.9 277.3h0M267.0 277.0h0M267.1 274.6h0M266.9 278.0h0M267.9 275.8h0M266.0 276.7h0M269.3 277.2h0M270.8 275.3h0M285.8 267.6h0M285.9 266.3h0M284.8 266.9h0M283.4 268.2h0M308.7 249.7h0M309.3 247.2h0M310.6 250.7h0M264.1 285.5h0M264.8 282.8h0M264.9 285.3h0M263.2 281.6h0M263.8 282.5h0M263.8 281.3h0M265.6 281.8h0M267.2 281.7h0M302.4 255.8h0M302.3 256.5h0M276.3 279.6h0M302.7 247.1h0M299.6 247.2h0M275.2 270.1h0M276.9 267.3h0M264.4 282.0h0M266.5 283.9h0M264.1 282.9h0M284.7 263.2h0M287.8 260.8h0M286.6 261.2h0M266.3 282.9h0M298.5 251.9h0M298.5 251.3h0M296.8 248.4h0M299.9 250.3h0M265.4 281.2h0M265.3 282.0h0M267.5 281.9h0M265.0 280.3h0M305.5 251.7h0M306.9 253.4h0M302.5 255.0h0M304.3 255.1h0M301.5 257.0h0M284.4 267.5h0M286.0 265.4h0M285.3 264.7h0M275.2 270.4h0M273.8 270.2h0M274.1 270.4h0M291.4 263.6h0M264.9 278.9h0M265.5 278.0h0M265.9 278.9h0M259.8 279.4h0M260.4 280.5h0M260.9 281.1h0M271.5 276.6h0M271.3 276.1h0M283.9 261.7h0M281.9 261.2h0M282.9 259.9h0M266.6 285.9h0M267.8 284.3h0M268.1 287.0h0M270.6 285.3h0M296.7 261.7h0M297.0 261.5h0M306.6 253.7h0M308.6 253.7h0M272.8 274.6h0M271.6 273.0h0M270.1 273.7h0M272.0 275.7h0M270.0 279.5h0M270.8 276.7h0M271.8 279.1h0M270.8 274.8h0M263.4 283.5h0M264.0 281.2h0M264.5 282.2h0M298.9 253.7h0M297.6 253.3h0M297.5 253.3h0M272.4 276.6h0M272.0 275.4h0M315.8 243.3h0M315.6 242.5h0M273.7 268.7h0M275.1 273.2h0M274.7 269.5h0M272.0 271.2h0M280.9 267.8h0M272.4 282.9h0M273.0 281.6h0M271.6 279.5h0M280.1 268.0h0M279.0 272.2h0M290.6 253.3h0M289.2 254.3h0M289.3 254.2h0M265.2 277.0h0M266.6 278.0h0M282.9 260.9h0M285.8 265.2h0M315.9 237.9h0M315.9 239.6h0M315.9 237.6h0M315.8 237.9h0M272.7 276.5h0M271.2 278.9h0M272.7 277.7h0M263.5 279.5h0M263.9 278.6h0M262.4 278.5h0M264.1 277.9h0M313.3 248.6h0M262.5 283.6h0M263.9 283.4h0M264.6 280.6h0M263.5 282.2h0M315.7 243.1h0M315.5 240.9h0M317.5 239.4h0M317.6 240.4h0M310.1 240.3h0M311.3 239.8h0M267.4 272.9h0M268.0 273.7h0M264.8 270.0h0M269.3 270.4h0M277.9 271.6h0M277.6 274.7h0M266.9 282.8h0M266.6 284.2h0M268.1 284.1h0M263.9 285.9h0M287.2 270.0h0M282.9 267.8h0M262.4 283.2h0M262.2 283.6h0M261.4 282.3h0M261.7 282.7h0M304.9 249.7h0M301.9 251.4h0M301.7 252.0h0M263.1 281.9h0M305.1 239.6h0M265.5 280.7h0M271.6 277.2h0M265.0 285.6h0M264.6 284.9h0M264.2 286.1h0M271.6 277.9h0M273.0 277.7h0M272.7 277.8h0M273.4 277.3h0M263.7 285.1h0M265.5 285.0h0M263.5 285.2h0M264.3 285.7h0M312.2 247.1h0M312.4 246.0h0M312.0 245.2h0M312.9 244.5h0M301.3 253.1h0M256.9 291.1h0M250.6 298.0h0M262.2 285.4h0M263.2 284.2h0M248.9 303.8h0M261.7 286.3h0M260.8 288.1h0M259.8 287.7h0M261.1 288.6h0M255.1 285.7h0M254.8 285.5h0M254.5 286.2h0M263.7 287.3h0M264.0 286.6h0M243.4 304.7h0M257.5 282.5h0M253.1 291.4h0M252.0 293.0h0M262.3 288.5h0M245.6 300.2h0M242.3 300.4h0M257.7 284.4h0M260.5 286.6h0M259.4 286.5h0" stroke="#000" stroke-width="2.5" stroke-linecap="round" fill="none" opacity="1"/>
<line x1="240" y1="303" x2="326.5" y2="227" stroke="#111" stroke-width="0.9"/>
<rect x="369.0" y="220.2" width="132.0" height="124.0" fill="none" stroke="#c8c8c8" stroke-width="0.8"/>
<text x="383.3" y="358.0" font-size="9.3" text-anchor="middle" font-weight="normal" fill="#000" font-family="Liberation Sans, sans-serif" stroke="#000" stroke-width="0.35">0</text>
<line x1="383.3" y1="344.2" x2="383.3" y2="346.0" stroke="#777" stroke-width="0.8"/>
<text x="420.0" y="358.0" font-size="9.3" text-anchor="middle" font-weight="normal" fill="#000" font-family="Liberation Sans, sans-serif" textLength="22.4" lengthAdjust="spacingAndGlyphs" stroke="#000" stroke-width="0.35">2000</text>
<line x1="420.0" y1="344.2" x2="420.0" y2="346.0" stroke="#777" stroke-width="0.8"/>
<text x="458.3" y="358.0" font-size="9.3" text-anchor="middle" font-weight="normal" fill="#000" font-family="Liberation Sans, sans-serif" textLength="22.4" lengthAdjust="spacingAndGlyphs" stroke="#000" stroke-width="0.35">4000</text>
<line x1="458.3" y1="344.2" x2="458.3" y2="346.0" stroke="#777" stroke-width="0.8"/>
<text x="495.0" y="358.0" font-size="9.3" text-anchor="middle" font-weight="normal" fill="#000" font-family="Liberation Sans, sans-serif" textLength="22.4" lengthAdjust="spacingAndGlyphs" stroke="#000" stroke-width="0.35">6000</text>
<line x1="495.0" y1="344.2" x2="495.0" y2="346.0" stroke="#777" stroke-width="0.8"/>
<text x="362.5" y="325.5" font-size="9.3" text-anchor="middle" font-weight="normal" fill="#000" font-family="Liberation Sans, sans-serif" transform="rotate(-90 362.5 325.5)" stroke="#000" stroke-width="0.35">0</text>
<line x1="367.2" y1="325.5" x2="369.0" y2="325.5" stroke="#777" stroke-width="0.8"/>
<text x="362.5" y="293.9" font-size="9.3" text-anchor="middle" font-weight="normal" fill="#000" font-family="Liberation Sans, sans-serif" transform="rotate(-90 362.5 293.9)" textLength="22.4" lengthAdjust="spacingAndGlyphs" stroke="#000" stroke-width="0.35">2000</text>
<line x1="367.2" y1="293.9" x2="369.0" y2="293.9" stroke="#777" stroke-width="0.8"/>
<text x="362.5" y="258.3" font-size="9.3" text-anchor="middle" font-weight="normal" fill="#000" font-family="Liberation Sans, sans-serif" transform="rotate(-90 362.5 258.3)" textLength="22.4" lengthAdjust="spacingAndGlyphs" stroke="#000" stroke-width="0.35">4000</text>
<line x1="367.2" y1="258.3" x2="369.0" y2="258.3" stroke="#777" stroke-width="0.8"/>
<text x="362.5" y="221.5" font-size="9.3" text-anchor="middle" font-weight="normal" fill="#000" font-family="Liberation Sans, sans-serif" transform="rotate(-90 362.5 221.5)" textLength="22.4" lengthAdjust="spacingAndGlyphs" stroke="#000" stroke-width="0.35">6000</text>
<line x1="367.2" y1="221.5" x2="369.0" y2="221.5" stroke="#777" stroke-width="0.8"/>
<path d="M392.0 324.3h0M412.5 302.6h0M428.3 295.9h0M399.7 318.6h0M418.4 299.0h0M406.2 308.2h0M429.9 290.5h0M410.3 302.2h0M437.9 289.1h0M395.3 319.2h0M389.2 326.4h0M399.8 313.4h0M424.3 295.9h0M410.9 305.7h0M434.2 292.2h0M434.1 284.2h0M433.5 291.5h0M390.8 322.5h0M413.8 303.7h0M418.7 294.8h0M431.4 289.2h0M389.4 322.4h0M415.8 303.8h0M384.3 326.4h0M421.2 296.0h0M414.1 306.0h0M389.1 324.3h0M387.5 323.8h0M410.5 306.9h0M409.3 308.8h0M410.8 305.7h0M434.6 286.8h0M437.0 289.7h0M397.9 316.5h0M383.6 323.2h0M398.8 318.0h0M427.8 296.4h0M397.5 319.6h0M390.8 324.7h0M411.8 299.8h0M418.0 297.8h0M391.4 322.0h0M385.2 327.1h0M390.7 322.2h0M393.0 317.1h0M400.5 312.5h0M411.7 304.3h0M432.5 291.3h0M403.5 317.5h0M413.9 299.0h0M417.8 300.6h0M395.9 315.6h0M413.1 306.8h0M435.3 287.0h0M436.3 286.8h0M404.9 311.0h0M425.4 292.3h0M399.0 313.7h0M424.8 293.8h0M403.5 314.4h0M426.7 298.9h0M387.3 327.5h0M392.4 320.3h0M418.0 304.7h0M394.1 320.4h0M398.1 316.5h0M418.5 300.1h0M396.6 315.0h0M397.2 313.2h0M425.1 292.4h0M388.0 323.9h0M384.2 327.9h0M424.9 291.0h0M430.2 289.7h0M415.9 296.8h0M417.5 304.3h0M429.2 289.5h0M409.1 304.5h0M388.9 325.4h0M402.2 313.1h0M404.3 308.5h0M430.3 295.4h0M413.7 301.4h0M386.0 327.2h0M416.7 299.7h0M428.5 294.2h0M387.3 327.0h0M430.5 288.2h0M384.5 325.6h0M421.0 301.3h0M402.1 313.9h0M410.3 309.0h0M391.9 322.3h0M392.7 323.6h0M398.1 318.1h0M424.4 293.9h0M429.4 295.9h0M424.7 295.0h0M400.3 315.0h0M400.8 315.1h0M407.7 312.1h0M389.5 321.6h0M403.0 312.8h0M411.4 305.5h0M397.6 316.4h0M389.7 320.7h0M384.3 322.6h0M405.5 308.5h0M411.9 308.1h0M398.4 316.0h0M381.9 328.5h0M407.2 308.6h0M434.7 289.5h0M413.1 304.0h0M407.4 308.1h0M407.1 310.5h0M401.2 316.7h0M414.5 304.3h0M392.6 321.4h0M427.7 287.6h0M404.3 307.0h0M417.9 300.5h0M384.7 325.8h0M401.0 312.6h0M390.4 323.2h0M392.8 322.4h0M419.4 305.1h0M416.2 299.2h0M416.4 302.2h0M402.3 318.5h0M427.0 290.8h0M424.8 296.5h0M412.7 301.6h0M403.8 315.1h0M420.8 296.0h0M397.1 318.8h0M395.6 320.5h0M383.0 327.5h0M420.0 294.6h0M389.6 321.2h0M400.1 315.2h0M408.6 309.4h0M408.7 310.0h0M423.9 293.1h0M390.8 325.7h0M416.3 303.1h0M410.1 306.7h0M393.3 318.7h0M397.5 314.4h0M400.6 309.2h0M387.8 323.3h0M384.5 327.1h0M392.2 325.0h0M404.6 313.1h0M426.5 290.1h0M398.7 317.6h0M424.7 291.8h0M432.4 294.9h0M396.7 322.8h0M426.9 294.4h0M406.5 308.3h0M411.9 309.2h0M424.7 296.5h0M409.1 309.1h0M417.0 302.2h0M389.1 322.2h0M386.2 327.8h0M429.4 295.1h0M410.9 306.9h0M384.4 326.9h0M422.6 295.9h0M424.1 297.8h0M397.0 320.1h0M419.7 298.5h0M432.1 285.6h0M414.2 304.8h0M428.9 290.9h0M388.2 325.1h0M389.3 328.5h0M403.6 315.8h0M386.8 320.9h0M434.3 284.6h0M391.2 322.2h0M406.6 305.2h0M383.7 323.3h0M383.8 327.1h0M422.1 295.8h0M417.5 299.9h0M403.4 312.9h0M425.7 292.1h0M420.9 297.3h0M409.9 306.3h0M424.8 297.6h0M412.8 299.0h0M386.9 326.4h0M393.0 315.5h0M408.7 303.5h0M398.6 316.6h0M412.5 305.5h0M418.1 300.9h0M398.2 315.9h0M413.9 303.5h0M396.3 315.7h0M418.7 300.1h0M384.1 330.8h0M431.3 283.7h0M410.3 305.6h0M401.2 311.7h0M403.4 307.6h0M390.4 321.6h0M431.2 289.0h0M405.4 305.1h0M406.1 304.6h0M388.4 323.9h0M408.5 307.2h0M398.3 319.7h0M405.6 309.1h0M421.5 300.8h0M420.1 297.4h0M393.9 316.7h0M408.7 308.4h0M429.0 290.3h0M413.7 303.5h0M393.7 314.8h0M391.1 323.0h0M391.0 321.8h0M401.1 314.6h0M391.1 323.1h0M426.7 298.2h0M433.2 287.9h0M435.4 286.0h0M421.2 300.6h0M410.7 309.3h0M425.7 295.2h0M405.3 309.9h0M383.3 327.2h0M433.4 286.1h0M386.5 324.0h0M385.7 328.5h0M422.2 295.6h0M412.1 306.8h0M415.0 300.5h0M417.8 303.3h0M405.8 310.0h0M387.4 328.4h0M411.7 307.1h0M435.7 287.3h0M409.8 305.3h0M428.2 290.7h0M429.2 290.4h0M419.2 298.9h0M392.1 319.5h0M433.4 289.7h0M426.6 295.3h0M424.4 294.6h0M387.9 328.7h0M429.2 291.5h0M414.1 299.5h0M414.4 302.7h0M387.3 325.4h0M423.9 294.7h0M423.0 297.2h0M395.2 316.5h0M389.3 323.2h0M418.7 299.5h0M392.9 321.5h0M403.9 310.4h0M420.7 296.2h0M408.5 307.7h0M424.0 296.3h0M390.8 321.5h0M427.7 291.9h0M410.4 303.1h0M412.9 308.5h0M386.7 323.0h0M414.9 308.6h0M403.2 311.8h0M433.1 292.2h0M389.2 322.5h0M412.1 306.5h0M407.1 309.7h0M432.7 287.6h0M426.9 289.7h0M407.7 307.4h0M426.6 289.3h0M414.4 307.4h0M387.2 322.9h0M389.4 327.9h0M403.5 311.6h0M429.3 286.1h0M425.6 300.0h0M432.3 292.3h0M432.8 287.4h0M421.4 296.1h0M402.6 311.2h0M397.6 319.7h0M422.1 293.2h0M424.5 293.7h0M435.1 289.8h0M419.0 305.2h0M428.2 290.4h0M396.0 316.9h0M396.2 316.1h0M407.8 311.2h0M389.2 321.7h0M427.6 292.0h0M426.5 295.0h0M431.9 291.2h0M392.4 323.1h0M416.3 299.6h0M383.6 328.5h0M388.0 325.6h0M412.0 307.6h0M422.5 301.1h0M418.6 302.7h0M387.2 323.5h0M400.0 315.6h0M407.5 306.0h0M384.2 331.2h0M413.3 303.8h0M408.8 307.6h0M412.5 305.9h0M435.0 285.2h0M407.5 311.0h0M435.3 288.9h0M413.9 304.5h0M406.6 309.8h0M390.2 317.7h0M425.7 293.2h0M399.8 316.6h0M397.4 317.8h0M399.7 309.8h0M410.3 308.4h0M402.9 315.1h0M423.2 294.1h0M392.4 318.6h0M394.4 319.5h0M414.0 300.6h0M381.8 326.8h0M399.3 311.6h0M428.5 295.4h0M432.5 288.6h0M417.1 299.0h0M390.8 319.2h0M401.9 314.7h0M404.2 310.1h0M427.3 291.6h0M395.1 318.2h0M421.5 296.1h0M405.8 311.0h0M421.9 300.0h0M416.1 297.9h0M428.6 288.7h0M419.0 300.5h0M394.3 317.0h0M405.1 310.4h0M406.2 313.6h0M392.0 322.5h0M432.4 291.9h0M394.2 322.5h0M399.7 318.0h0M434.9 287.5h0M419.3 303.6h0M426.4 291.9h0M381.8 328.1h0M418.2 302.0h0M402.6 310.6h0M433.9 288.0h0M428.5 290.5h0M417.1 304.2h0M433.6 289.6h0M423.8 299.0h0M387.0 324.3h0M411.7 300.6h0M435.1 290.4h0M391.5 325.9h0M413.7 301.7h0M384.5 324.8h0M402.5 308.1h0M423.7 299.3h0M403.8 308.5h0M433.5 288.7h0M399.7 315.8h0M424.9 293.1h0M383.3 327.8h0M401.7 312.2h0M431.2 292.1h0M422.5 300.8h0M425.2 298.4h0M402.5 308.9h0M412.3 301.4h0M417.6 299.1h0M406.6 310.5h0M415.9 304.0h0M408.9 302.3h0M403.1 312.5h0M411.2 308.1h0M411.8 305.3h0M414.8 302.5h0M418.7 294.4h0M421.5 301.7h0M431.3 291.1h0M433.5 286.6h0M381.8 328.3h0M421.1 300.2h0M429.7 294.6h0M412.5 304.2h0M388.1 321.1h0M434.9 288.2h0M422.2 294.8h0M398.6 315.6h0M397.9 315.7h0M384.8 324.3h0M400.7 317.6h0M405.2 307.3h0M398.3 319.8h0M385.5 324.4h0M392.9 320.0h0M384.6 327.3h0M403.8 312.9h0M413.5 301.3h0M430.3 295.9h0M427.3 292.5h0M402.6 317.3h0M414.9 305.5h0M416.6 301.7h0M389.2 321.9h0M417.1 302.7h0M407.0 310.7h0M411.4 303.9h0M430.0 290.6h0M397.3 319.1h0M388.2 327.3h0M407.8 308.6h0M385.0 326.9h0M432.7 286.4h0M425.4 291.0h0M393.8 322.5h0M407.4 309.8h0M431.8 288.7h0M384.7 330.4h0M423.8 298.5h0M402.3 308.7h0M386.7 320.7h0M429.7 291.4h0M417.3 299.5h0M405.0 313.4h0M391.6 318.6h0M430.9 292.0h0M390.8 323.8h0M413.9 300.6h0M418.9 305.4h0M398.7 314.0h0M434.4 287.6h0M433.7 286.4h0M425.4 293.3h0M391.9 319.1h0M434.6 284.9h0M431.7 290.7h0M431.2 284.7h0M429.4 290.8h0M411.8 305.5h0M387.7 325.1h0M403.4 312.2h0M408.2 313.6h0M412.3 305.1h0M423.4 295.8h0M422.2 295.0h0M402.5 316.5h0M425.6 298.2h0M391.6 319.3h0M404.8 308.3h0M425.0 291.8h0M418.8 302.6h0M384.0 328.4h0M432.6 290.9h0M423.8 293.0h0M408.3 308.1h0M405.6 310.5h0M422.4 300.1h0M383.8 326.0h0M400.2 309.4h0M402.3 312.4h0M432.0 292.5h0M397.5 321.6h0M386.1 321.2h0M414.1 305.1h0M402.0 315.6h0M388.6 324.7h0M412.4 303.8h0M410.9 307.5h0M414.4 303.3h0M422.2 301.6h0M418.2 298.6h0M430.5 295.9h0M396.6 317.8h0M389.7 321.9h0M408.6 311.0h0M393.8 320.1h0M396.4 320.2h0M418.5 301.8h0M392.6 319.9h0M428.2 291.7h0M414.9 308.6h0M419.4 296.3h0M409.9 308.2h0M436.2 289.6h0M414.8 305.1h0M427.9 296.3h0M424.6 292.8h0M401.2 316.3h0M393.2 323.4h0M407.9 304.2h0M407.8 310.1h0M423.8 294.6h0M400.9 312.7h0M411.1 308.4h0M388.6 325.1h0M403.3 315.9h0M397.7 318.0h0M398.8 311.3h0M432.5 287.1h0M426.6 294.7h0M408.4 310.4h0M402.7 311.2h0M396.7 319.1h0M403.7 310.2h0M436.2 289.7h0M393.3 321.1h0M427.6 294.0h0M411.8 299.9h0M432.0 289.4h0M422.1 297.7h0M392.0 319.5h0M433.1 286.6h0M434.0 289.7h0M387.5 323.4h0M401.3 314.4h0M384.8 322.2h0M409.8 308.7h0M427.7 286.7h0M420.3 292.8h0M417.9 300.4h0M405.4 308.3h0M388.8 320.6h0M389.5 324.2h0M410.0 305.8h0M402.4 316.6h0M425.5 294.5h0M423.8 299.0h0M420.7 295.5h0M392.4 321.5h0M419.3 305.2h0M418.1 301.6h0M416.9 298.9h0M409.6 305.9h0M412.7 303.7h0M421.4 299.2h0M431.8 283.3h0M384.4 329.6h0M395.7 319.3h0M424.4 294.3h0M414.3 305.7h0M388.9 318.8h0M396.8 321.9h0M420.3 299.0h0M405.6 313.0h0M422.5 294.1h0M434.1 288.7h0M402.8 312.7h0M428.2 295.2h0M404.8 307.7h0M426.6 299.4h0M403.7 313.0h0M391.1 326.4h0M399.1 316.3h0M417.3 301.4h0M433.8 288.2h0M400.8 317.1h0M410.8 308.3h0M430.6 287.8h0M419.3 297.9h0M397.2 318.7h0M413.7 300.8h0M404.1 313.1h0M385.6 325.0h0M407.3 311.8h0M435.8 287.8h0M418.8 301.6h0M415.5 302.0h0M415.6 305.7h0M429.5 290.6h0M406.5 313.9h0M382.9 326.0h0M403.1 313.5h0M382.4 328.2h0M413.0 308.9h0M431.9 291.9h0M403.0 315.0h0M407.1 307.8h0M426.1 294.1h0M422.4 294.2h0M394.9 317.2h0M437.1 289.5h0M419.0 296.6h0M389.8 324.3h0M392.3 323.8h0M393.9 321.8h0M436.3 291.0h0M420.7 293.6h0M436.0 289.4h0M430.3 295.9h0M408.9 305.2h0M428.4 292.2h0M396.9 316.9h0M416.2 300.0h0M419.5 301.5h0M423.1 294.2h0M428.5 293.0h0M432.3 290.6h0M386.3 322.2h0M381.9 327.6h0M405.1 310.2h0M424.7 299.2h0M401.5 313.7h0M435.0 287.6h0M431.2 284.7h0M417.1 306.9h0M429.3 292.2h0M421.8 299.7h0M400.2 318.6h0M426.0 295.8h0M420.3 297.0h0M425.9 291.8h0M388.5 328.2h0M395.5 314.9h0M410.3 309.9h0M425.9 300.0h0M432.9 287.4h0M382.8 328.2h0M392.6 323.1h0M409.6 309.4h0M402.3 314.3h0M400.6 319.8h0M406.2 309.5h0M412.4 309.4h0M428.3 298.1h0M423.2 297.7h0M407.6 307.5h0M401.8 318.9h0M408.0 308.2h0M421.7 302.0h0M427.2 289.5h0M400.3 316.1h0M393.2 315.2h0M385.5 323.2h0M384.5 324.3h0M410.6 306.3h0M394.3 321.7h0M436.3 289.5h0M408.9 306.7h0M419.5 294.1h0M424.4 289.4h0M387.9 325.4h0M404.4 310.5h0M435.0 285.1h0M393.2 323.0h0M387.3 327.4h0M397.1 321.7h0M405.4 315.0h0M433.9 292.7h0M432.6 289.1h0M403.0 310.8h0M412.2 302.7h0M403.1 312.1h0M425.9 295.3h0M409.2 302.9h0M408.9 307.2h0M425.6 295.5h0M415.0 307.3h0M416.0 301.3h0M396.9 316.7h0M399.3 314.5h0M419.8 302.9h0M384.5 322.9h0M429.0 293.9h0M413.3 300.5h0M395.6 317.9h0M426.8 296.8h0M403.5 311.3h0M394.4 319.6h0M421.2 295.2h0M424.9 290.3h0M391.6 325.6h0M389.3 323.2h0M423.4 297.1h0M432.4 287.8h0M424.6 295.2h0M419.1 300.1h0M390.3 324.1h0M495.4 224.5h0M480.0 247.8h0M486.6 258.0h0M480.0 266.0h0M453.8 281.2h0M467.0 262.0h0M447.0 271.0h0M374.0 340.0h0" stroke="#000" stroke-width="2.2" stroke-linecap="round" fill="none" opacity="1"/>
<path d="M463.5 256.2h0M463.3 253.8h0M460.6 257.1h0M462.3 254.8h0M470.3 249.2h0M479.3 246.6h0M477.0 247.3h0M478.0 247.5h0M434.6 284.0h0M434.9 286.3h0M433.6 284.6h0M436.3 285.1h0M463.5 247.5h0M462.9 249.5h0M463.3 250.3h0M465.1 249.2h0M448.7 280.4h0M449.7 280.1h0M448.4 280.8h0M476.6 246.9h0M476.5 247.9h0M477.5 247.4h0M431.0 280.6h0M431.4 279.9h0M466.1 256.3h0M468.1 255.5h0M464.6 257.3h0M467.0 257.8h0M465.1 258.2h0M466.3 257.1h0M437.2 286.2h0M437.5 283.7h0M436.2 283.0h0M435.1 282.7h0M468.4 256.6h0M468.0 257.2h0M468.8 256.7h0M471.4 256.0h0M445.3 273.7h0M443.4 274.7h0M456.1 270.7h0M456.4 271.2h0M455.6 269.5h0M464.4 253.5h0M464.0 254.6h0M481.3 240.4h0M482.1 241.1h0M442.2 277.9h0M450.9 271.4h0M449.4 272.6h0M451.7 271.3h0M451.9 270.3h0M434.2 283.0h0M435.3 284.5h0M435.1 286.1h0M434.5 283.1h0M433.5 283.7h0M433.3 281.9h0M433.6 283.0h0M437.6 285.5h0M439.5 284.0h0M440.2 285.9h0M449.3 273.8h0M447.8 270.8h0M448.8 272.9h0M445.8 270.5h0M453.9 267.1h0M453.3 267.1h0M454.7 268.7h0M445.2 268.6h0M444.7 265.8h0M446.1 267.5h0M445.2 267.8h0M457.9 268.4h0M432.0 283.5h0M432.5 281.7h0M435.8 277.4h0M436.0 276.7h0M463.8 258.2h0M462.3 254.7h0M441.6 281.1h0M443.4 278.5h0M436.5 285.1h0M435.6 283.5h0M436.2 285.1h0M436.5 285.4h0M448.2 274.3h0M450.3 273.1h0M450.5 273.8h0M448.6 274.6h0M465.5 251.3h0M464.7 254.4h0M444.3 277.4h0M478.5 247.3h0M477.9 248.5h0M477.5 246.0h0M452.1 267.9h0M443.4 271.5h0M443.1 270.7h0M444.5 271.6h0M441.8 291.9h0M441.6 291.1h0M439.5 288.4h0M441.3 288.4h0M451.3 272.8h0M451.4 263.1h0M453.6 263.9h0M452.0 264.0h0M464.6 253.8h0M450.2 281.2h0M462.7 259.4h0M446.6 271.0h0M458.9 255.4h0M458.3 254.9h0M435.0 281.8h0M434.2 281.7h0M434.7 280.1h0M436.5 285.0h0M436.4 287.9h0M436.1 285.2h0M469.9 257.3h0M468.4 258.9h0M468.1 258.0h0M467.9 257.5h0M445.8 278.6h0M447.6 277.3h0M446.4 277.1h0M475.5 244.3h0M476.9 246.7h0M474.9 246.5h0M475.8 247.4h0M461.8 262.4h0M461.4 262.6h0M460.3 263.9h0M445.3 278.1h0M427.8 297.3h0M435.8 291.4h0M436.3 294.5h0M423.5 285.9h0M423.4 286.7h0M425.5 287.8h0M422.8 288.5h0M422.1 287.8h0M414.5 304.9h0M433.2 298.9h0M414.9 307.2h0M414.9 305.0h0M418.3 296.8h0M428.1 291.3h0M404.6 302.4h0M421.9 304.5h0M412.9 304.4h0M426.5 289.8h0M414.6 302.7h0M414.2 302.2h0M412.6 300.0h0M412.3 302.5h0M410.4 301.2h0M419.3 291.7h0M421.1 291.2h0M416.6 300.9h0M413.8 305.0h0M415.0 304.0h0M414.3 301.2h0M413.5 299.7h0M418.8 297.0h0M419.9 297.8h0M419.0 298.3h0M437.3 292.0h0M436.5 291.5h0" stroke="#000" stroke-width="2.5" stroke-linecap="round" fill="none" opacity="1"/>
<line x1="420" y1="295" x2="491.5" y2="232.3" stroke="#111" stroke-width="0.9"/>
<rect x="47.5" y="373.3" width="133.5" height="124.09999999999997" fill="none" stroke="#c8c8c8" stroke-width="0.8"/>
<text x="54.9" y="510.6" font-size="9.3" text-anchor="middle" font-weight="normal" fill="#000" font-family="Liberation Sans, sans-serif" stroke="#000" stroke-width="0.35">0</text>
<line x1="54.9" y1="497.4" x2="54.9" y2="499.2" stroke="#777" stroke-width="0.8"/>
<text x="92.2" y="510.6" font-size="9.3" text-anchor="middle" font-weight="normal" fill="#000" font-family="Liberation Sans, sans-serif" textLength="22.4" lengthAdjust="spacingAndGlyphs" stroke="#000" stroke-width="0.35">2000</text>
<line x1="92.2" y1="497.4" x2="92.2" y2="499.2" stroke="#777" stroke-width="0.8"/>
<text x="125.8" y="510.6" font-size="9.3" text-anchor="middle" font-weight="normal" fill="#000" font-family="Liberation Sans, sans-serif" textLength="22.4" lengthAdjust="spacingAndGlyphs" stroke="#000" stroke-width="0.35">4000</text>
<line x1="125.8" y1="497.4" x2="125.8" y2="499.2" stroke="#777" stroke-width="0.8"/>
<text x="164.0" y="510.6" font-size="9.3" text-anchor="middle" font-weight="normal" fill="#000" font-family="Liberation Sans, sans-serif" textLength="22.4" lengthAdjust="spacingAndGlyphs" stroke="#000" stroke-width="0.35">6000</text>
<line x1="164.0" y1="497.4" x2="164.0" y2="499.2" stroke="#777" stroke-width="0.8"/>
<text x="42.1" y="488.3" font-size="9.3" text-anchor="middle" font-weight="normal" fill="#000" font-family="Liberation Sans, sans-serif" transform="rotate(-90 42.1 488.3)" stroke="#000" stroke-width="0.35">0</text>
<line x1="45.7" y1="488.3" x2="47.5" y2="488.3" stroke="#777" stroke-width="0.8"/>
<text x="42.1" y="450.3" font-size="9.3" text-anchor="middle" font-weight="normal" fill="#000" font-family="Liberation Sans, sans-serif" transform="rotate(-90 42.1 450.3)" textLength="22.4" lengthAdjust="spacingAndGlyphs" stroke="#000" stroke-width="0.35">2000</text>
<line x1="45.7" y1="450.3" x2="47.5" y2="450.3" stroke="#777" stroke-width="0.8"/>
<text x="42.1" y="415.3" font-size="9.3" text-anchor="middle" font-weight="normal" fill="#000" font-family="Liberation Sans, sans-serif" transform="rotate(-90 42.1 415.3)" textLength="22.4" lengthAdjust="spacingAndGlyphs" stroke="#000" stroke-width="0.35">4000</text>
<line x1="45.7" y1="415.3" x2="47.5" y2="415.3" stroke="#777" stroke-width="0.8"/>
<text x="42.1" y="378.8" font-size="9.3" text-anchor="middle" font-weight="normal" fill="#000" font-family="Liberation Sans, sans-serif" transform="rotate(-90 42.1 378.8)" textLength="22.4" lengthAdjust="spacingAndGlyphs" stroke="#000" stroke-width="0.35">6000</text>
<line x1="45.7" y1="378.8" x2="47.5" y2="378.8" stroke="#777" stroke-width="0.8"/>
<path d="M70.8 474.2h0M67.2 480.7h0M61.3 479.4h0M101.9 442.8h0M103.8 445.0h0M58.2 485.4h0M67.8 473.8h0M92.0 455.6h0M94.5 453.6h0M79.0 468.0h0M81.4 465.5h0M94.3 448.9h0M80.9 469.9h0M107.8 437.4h0M70.2 473.9h0M60.4 486.7h0M68.6 478.8h0M56.5 489.1h0M106.9 440.8h0M91.6 456.7h0M65.1 481.7h0M54.3 489.1h0M102.5 444.9h0M75.2 471.9h0M65.8 480.9h0M76.7 469.4h0M61.4 481.8h0M58.0 488.8h0M55.3 491.9h0M54.2 492.2h0M87.0 455.5h0M72.8 474.2h0M70.0 479.8h0M80.4 467.1h0M89.2 456.3h0M67.6 479.0h0M60.5 484.9h0M91.7 454.2h0M70.1 477.2h0M102.6 445.1h0M81.9 462.6h0M112.3 439.4h0M64.9 483.3h0M58.4 482.9h0M62.2 483.1h0M109.7 437.4h0M90.1 451.3h0M86.3 457.1h0M74.3 474.4h0M61.9 483.7h0M54.9 491.7h0M99.9 447.5h0M80.3 466.1h0M109.9 436.2h0M52.4 489.6h0M100.6 442.2h0M61.7 481.9h0M111.4 437.9h0M63.2 485.0h0M67.9 481.2h0M79.9 466.0h0M82.3 462.0h0M64.5 484.9h0M96.4 452.9h0M106.4 442.0h0M58.3 488.4h0M62.6 481.9h0M99.1 450.7h0M54.4 486.5h0M92.1 453.7h0M96.8 451.5h0M105.2 442.0h0M86.5 463.9h0M75.2 472.0h0M57.7 486.1h0M67.7 476.1h0M59.4 480.9h0M84.6 464.9h0M54.9 490.9h0M97.9 450.6h0M109.2 435.2h0M60.4 482.7h0M91.7 456.4h0M104.4 441.5h0M66.0 479.7h0M107.8 443.1h0M95.8 452.1h0M97.6 450.3h0M68.3 478.3h0M93.5 452.2h0M100.2 448.8h0M105.5 442.3h0M88.2 462.9h0M59.9 487.7h0M88.7 454.2h0M76.1 469.5h0M103.3 441.9h0M75.3 474.7h0M88.4 458.1h0M83.2 460.4h0M60.3 484.7h0M97.0 452.7h0M80.7 467.9h0M84.2 462.9h0M78.4 468.4h0M53.4 489.0h0M59.5 485.3h0M82.6 463.5h0M76.2 468.0h0M77.7 469.1h0M64.4 478.6h0M87.6 461.4h0M77.9 466.6h0M81.6 462.4h0M87.5 456.2h0M109.4 437.0h0M95.1 452.4h0M89.4 457.7h0M92.7 452.0h0M68.8 477.3h0M95.7 448.3h0M67.6 477.7h0M92.4 455.2h0M66.1 479.7h0M98.9 446.3h0M72.2 471.4h0M106.4 441.0h0M99.2 447.2h0M105.3 437.0h0M96.1 447.8h0M73.6 471.2h0M64.1 481.5h0M105.1 441.2h0M57.6 490.7h0M107.2 436.8h0M63.9 484.7h0M86.8 458.2h0M83.1 463.5h0M92.6 452.7h0M61.7 484.1h0M73.1 469.0h0M88.5 461.1h0M98.7 446.6h0M86.7 459.2h0M89.7 451.8h0M68.1 477.3h0M76.3 468.0h0M89.9 458.3h0M73.9 472.8h0M98.6 446.9h0M100.8 442.6h0M55.6 493.1h0M77.8 467.4h0M67.5 480.7h0M91.2 457.8h0M107.4 443.2h0M68.2 474.4h0M71.3 471.8h0M77.3 467.8h0M81.4 463.1h0M82.1 465.9h0M82.2 464.9h0M101.6 446.9h0M72.5 474.0h0M83.6 463.9h0M64.8 482.2h0M74.5 471.9h0M79.4 465.7h0M109.7 440.5h0M96.3 449.8h0M66.3 475.7h0M105.0 437.7h0M100.5 447.8h0M103.1 443.2h0M96.6 449.2h0M60.0 482.4h0M72.0 474.7h0M60.9 487.3h0M91.0 456.5h0M96.9 447.5h0M67.5 478.0h0M85.1 461.8h0M54.7 488.4h0M77.2 466.1h0M53.4 489.1h0M66.8 483.5h0M92.0 458.0h0M107.8 439.2h0M100.4 447.0h0M93.4 456.1h0M78.1 470.7h0M60.7 486.8h0M101.6 443.4h0M95.1 449.5h0M92.9 453.6h0M67.5 480.3h0M82.5 465.3h0M70.6 475.0h0M72.7 471.4h0M92.8 457.7h0M91.8 452.7h0M72.2 474.0h0M95.4 451.9h0M65.9 481.0h0M106.5 444.0h0M80.2 461.4h0M56.9 483.2h0M69.3 477.7h0M82.5 466.2h0M72.7 475.4h0M91.7 456.6h0M84.9 461.4h0M79.4 466.2h0M97.5 453.8h0M65.7 478.2h0M68.5 479.9h0M102.5 443.8h0M77.0 469.0h0M105.4 439.2h0M108.5 437.7h0M96.5 448.2h0M53.6 487.2h0M69.5 473.3h0M97.1 444.7h0M64.3 482.7h0M108.0 436.0h0M52.9 490.5h0M105.3 444.9h0M71.4 475.2h0M80.9 463.4h0M83.4 464.4h0M56.4 488.9h0M90.2 456.9h0M86.0 457.4h0M106.3 442.0h0M73.6 472.1h0M108.9 436.5h0M54.3 487.8h0M109.0 436.7h0M106.6 437.6h0M81.0 464.6h0M106.8 439.8h0M68.0 475.0h0M80.0 468.5h0M70.1 477.0h0M105.3 437.8h0M64.3 484.3h0M56.5 486.4h0M51.8 489.2h0M86.8 459.2h0M98.2 450.9h0M78.6 470.8h0M61.6 482.3h0M105.7 441.9h0M107.9 439.5h0M59.1 489.6h0M60.5 487.3h0M91.0 456.8h0M75.0 472.0h0M59.0 487.3h0M89.2 458.1h0M105.2 441.5h0M69.0 475.3h0M89.3 460.6h0M98.4 448.8h0M86.7 460.3h0M76.4 469.0h0M88.4 459.0h0M61.8 482.4h0M101.0 446.8h0M68.0 477.3h0M70.2 478.6h0M64.2 476.8h0M103.6 446.6h0M93.0 454.2h0M63.9 479.2h0M108.4 440.1h0M86.0 459.6h0M70.6 476.1h0M76.5 469.0h0M75.7 470.7h0M66.3 479.2h0M94.2 451.6h0M94.1 451.2h0M101.4 447.0h0M79.8 468.3h0M111.1 438.0h0M89.3 456.3h0M57.5 488.2h0M61.8 484.4h0M74.9 471.7h0M85.9 460.5h0M61.8 485.1h0M83.0 462.3h0M111.6 437.1h0M91.3 452.9h0M90.7 455.4h0M68.7 476.0h0M60.3 484.2h0M87.1 461.6h0M80.0 463.0h0M94.7 451.2h0M110.6 436.3h0M80.7 466.7h0M56.3 486.6h0M95.1 448.7h0M54.7 488.9h0M64.4 480.9h0M101.7 445.8h0M111.4 439.5h0M66.2 483.4h0M69.5 478.1h0M107.9 439.8h0M87.4 461.1h0M103.3 444.8h0M102.2 444.3h0M59.1 485.6h0M92.3 458.5h0M102.6 445.6h0M90.9 454.1h0M91.2 458.2h0M76.7 467.4h0M75.7 469.6h0M90.6 456.5h0M59.5 485.8h0M96.8 449.3h0M84.2 460.9h0M57.1 486.6h0M80.5 463.1h0M77.0 469.7h0M64.0 484.4h0M88.3 456.2h0M84.6 463.2h0M111.2 437.9h0M61.3 481.4h0M87.3 461.4h0M59.3 488.2h0M107.5 439.6h0M94.3 450.9h0M99.2 449.2h0M74.9 472.1h0M100.2 445.2h0M54.0 486.1h0M69.1 479.7h0M58.3 481.9h0M68.4 477.2h0M73.0 467.7h0M57.6 486.6h0M91.4 453.7h0M98.1 448.6h0M75.5 471.2h0M92.6 455.2h0M69.7 473.6h0M85.8 462.3h0M60.6 486.2h0M108.6 436.3h0M61.4 484.9h0M79.5 464.6h0M62.2 483.6h0M58.7 483.6h0M87.1 459.7h0M111.2 438.9h0M68.2 476.2h0M98.7 448.5h0M112.1 439.4h0M86.4 464.6h0M54.0 488.4h0M74.4 470.5h0M78.7 462.4h0M72.7 469.4h0M76.7 473.4h0M82.8 462.5h0M55.8 488.4h0M92.5 453.0h0M82.8 466.0h0M57.3 484.8h0M56.4 486.9h0M70.3 474.8h0M74.7 469.5h0M108.8 438.8h0M100.7 449.6h0M81.8 463.0h0M96.3 450.7h0M86.1 463.6h0M76.5 469.7h0M62.4 480.5h0M107.0 441.6h0M67.0 480.5h0M57.5 491.7h0M100.8 445.8h0M80.2 468.4h0M94.4 455.0h0M55.2 485.1h0M100.0 446.3h0M72.0 478.3h0M69.7 473.9h0M61.7 486.9h0M55.5 489.1h0M68.1 473.9h0M57.6 482.6h0M76.8 467.2h0M73.3 469.0h0M77.5 472.6h0M79.2 461.9h0M91.2 457.3h0M58.3 486.1h0M101.3 447.6h0M62.9 478.7h0M72.6 473.5h0M91.6 452.3h0M111.2 437.4h0M64.0 484.9h0M106.4 441.5h0M63.3 482.0h0M87.7 460.4h0M82.5 464.9h0M66.3 477.4h0M77.1 463.9h0M55.8 488.0h0M79.6 461.5h0M84.5 459.4h0M85.8 465.2h0M78.6 470.9h0M71.5 472.6h0M59.9 486.1h0M78.6 471.1h0M69.2 476.1h0M64.1 476.7h0M106.8 435.9h0M108.3 441.8h0M57.2 491.4h0M66.1 482.5h0M110.0 438.2h0M53.5 492.3h0M62.8 483.3h0M109.1 437.1h0M103.5 444.1h0M68.3 478.5h0M84.7 458.9h0M81.0 469.9h0M79.4 468.1h0M55.8 491.8h0M76.0 468.1h0M107.8 439.2h0M56.0 488.3h0M59.1 483.5h0M110.0 435.6h0M108.4 443.2h0M94.6 452.9h0M88.3 459.8h0M79.7 466.9h0M77.9 468.5h0M108.5 437.0h0M111.2 437.3h0M60.4 483.1h0M98.0 449.8h0M94.6 448.8h0M66.1 477.8h0M78.9 466.3h0M106.8 441.5h0M51.8 490.6h0M92.4 454.6h0M54.5 491.9h0M103.5 445.3h0M90.5 456.3h0M56.9 488.9h0M54.0 491.1h0M63.8 478.8h0M94.3 453.4h0M97.4 448.1h0M64.8 481.2h0M87.8 462.3h0M75.6 472.2h0M107.0 440.7h0M77.0 468.4h0M63.4 480.7h0M76.3 466.6h0M106.4 440.9h0M65.3 483.9h0M96.0 451.6h0M64.4 479.0h0M91.4 457.5h0M104.0 440.8h0M94.9 449.8h0M72.2 476.1h0M108.4 440.2h0M106.0 444.9h0M99.2 445.0h0M109.0 438.9h0M81.0 465.7h0M108.9 438.0h0M60.5 485.0h0M85.1 456.7h0M63.2 482.3h0M80.2 463.6h0M56.3 489.3h0M98.8 445.7h0M71.6 476.2h0M90.3 456.8h0M82.5 463.4h0M100.8 446.0h0M54.6 488.9h0M94.1 455.1h0M96.0 451.7h0M61.8 483.8h0M90.5 455.8h0M72.7 473.0h0M71.7 474.4h0M95.2 450.4h0M53.3 488.4h0M75.1 465.9h0M62.6 479.2h0M95.6 453.1h0M85.2 459.1h0M66.4 480.6h0M64.3 484.7h0M70.0 476.1h0M71.4 473.8h0M102.8 443.9h0M64.8 483.1h0M94.3 450.5h0M54.1 492.6h0M60.1 490.1h0M103.1 445.6h0M100.0 448.3h0M83.8 463.5h0M90.7 455.4h0M93.0 450.5h0M107.5 441.5h0M87.4 461.1h0M81.7 461.1h0M87.3 459.4h0M93.7 456.0h0M59.1 488.6h0M86.2 462.1h0M57.2 486.5h0M89.4 455.0h0M62.5 483.4h0M63.5 485.2h0M62.4 482.0h0M87.8 463.1h0M52.3 490.4h0M54.5 489.6h0M101.7 448.1h0M102.0 441.7h0M101.8 446.9h0M65.6 481.6h0M59.2 487.7h0M93.9 452.9h0M73.5 472.2h0M89.1 454.6h0M75.9 469.6h0M57.0 487.2h0M88.6 454.3h0M78.4 464.7h0M78.4 469.5h0M58.1 486.1h0M80.4 463.8h0M105.1 441.6h0M102.6 440.1h0M89.1 458.8h0M89.3 459.3h0M85.5 465.5h0M59.9 485.1h0M95.2 453.6h0M82.1 462.8h0M107.4 438.0h0M94.5 450.7h0M54.1 491.6h0M86.1 459.1h0M61.0 484.7h0M58.8 484.6h0M65.5 477.6h0M57.9 489.3h0M76.3 466.4h0M80.6 464.5h0M88.0 461.3h0M78.6 467.8h0M63.4 482.7h0M84.0 461.0h0M61.9 481.5h0M96.8 451.8h0M66.4 478.5h0M88.1 458.1h0M64.0 482.8h0M55.8 487.0h0M57.2 488.0h0M102.6 439.4h0M94.2 455.3h0M78.4 469.7h0M98.1 444.7h0M107.3 439.9h0M86.6 459.5h0M63.1 478.5h0M100.5 444.8h0M106.7 437.8h0M94.3 449.8h0M103.0 442.3h0M91.5 455.5h0M66.2 476.8h0M61.5 481.7h0M52.6 490.0h0M60.3 480.6h0M75.7 469.6h0M104.9 445.5h0M75.3 472.4h0M108.2 435.4h0M86.6 459.8h0M95.8 448.2h0M99.6 448.9h0M102.1 439.9h0M68.6 479.7h0M51.6 489.1h0M102.6 445.2h0M108.0 441.8h0M59.3 485.9h0M62.5 486.2h0M61.6 483.0h0M82.4 467.3h0M62.4 481.5h0M95.0 451.3h0M92.9 454.7h0M85.6 465.4h0M93.4 451.3h0M97.2 447.4h0M85.1 464.1h0M105.7 441.5h0M58.1 485.4h0M99.7 446.5h0M109.4 439.7h0M86.7 457.7h0M93.6 450.8h0M86.7 460.6h0M111.4 437.2h0M92.4 452.8h0M100.0 446.4h0M88.9 460.3h0M106.3 437.8h0M70.1 473.3h0M71.8 477.5h0M74.7 473.4h0M75.9 474.3h0M55.3 491.0h0M99.1 448.2h0M93.1 454.9h0M99.8 443.6h0M58.7 484.2h0M78.8 468.9h0M99.1 449.3h0M94.9 453.9h0M141.0 388.0h0M127.0 404.6h0M158.0 405.0h0M152.5 391.5h0M148.0 404.0h0M140.0 415.0h0M132.0 430.0h0" stroke="#000" stroke-width="2.2" stroke-linecap="round" fill="none" opacity="1"/>
<path d="M160.3 398.1h0M161.6 397.2h0M160.0 396.0h0M113.7 433.0h0M116.1 432.8h0M114.3 431.8h0M117.1 433.3h0M114.2 436.3h0M111.4 436.4h0M113.5 437.5h0M112.4 436.9h0M133.7 416.3h0M132.9 415.9h0M132.8 416.1h0M120.0 427.2h0M119.7 427.6h0M119.8 427.9h0M127.2 418.8h0M128.5 421.5h0M126.0 421.9h0M127.3 422.1h0M119.5 426.3h0M112.6 435.4h0M111.7 432.4h0M113.4 433.2h0M146.5 402.3h0M146.9 402.4h0M158.0 402.0h0M158.9 402.3h0M157.5 401.1h0M158.9 402.6h0M146.0 408.2h0M143.3 409.8h0M143.8 409.2h0M153.6 395.2h0M155.7 393.8h0M154.1 394.2h0M143.2 400.5h0M144.0 401.3h0M145.4 402.7h0M125.5 426.4h0M136.6 414.2h0M137.8 407.7h0M114.0 435.0h0M133.4 411.7h0M131.4 415.2h0M160.3 398.1h0M157.5 398.9h0M158.5 398.9h0M158.2 402.2h0M158.5 392.0h0M159.3 393.3h0M161.1 394.1h0M118.4 425.4h0M119.2 426.9h0M131.7 409.7h0M133.9 409.8h0M132.9 408.9h0M118.4 436.5h0M115.7 435.5h0M117.2 435.5h0M127.4 416.9h0M127.2 418.5h0M127.3 416.2h0M129.6 419.0h0M115.3 431.7h0M117.0 428.1h0M116.8 431.9h0M145.2 405.1h0M136.1 409.9h0M138.2 410.0h0M137.6 409.7h0M136.9 408.4h0M134.8 410.5h0M137.0 410.9h0M155.2 395.0h0M143.6 409.0h0M140.3 408.1h0M144.6 409.0h0M142.1 408.2h0M118.2 429.4h0M119.0 430.5h0M115.8 429.2h0M117.8 429.3h0M152.4 395.6h0M150.8 396.2h0M142.3 405.4h0M142.0 408.2h0M142.8 405.3h0M146.0 408.8h0M146.1 410.2h0M146.6 408.7h0M147.9 409.8h0M113.1 437.9h0M157.6 392.6h0M156.0 393.8h0M146.4 402.9h0M114.5 434.6h0M135.8 414.6h0M134.8 418.1h0M135.5 416.2h0M127.4 429.7h0M127.3 430.1h0M139.4 407.7h0M139.7 408.5h0M140.4 408.3h0M138.1 410.3h0M149.1 404.5h0M127.2 418.9h0M127.1 422.3h0M146.8 404.5h0M148.4 404.1h0M111.7 435.8h0M111.3 436.7h0M126.3 419.8h0M124.3 419.2h0M126.2 422.5h0M120.5 426.3h0M143.5 401.1h0M100.0 444.4h0M100.2 445.2h0M82.6 463.4h0M97.8 446.2h0M96.5 446.4h0M99.2 445.8h0M90.0 457.8h0M90.8 458.2h0M89.9 459.0h0M84.8 463.5h0M83.7 464.8h0M104.0 445.7h0M103.3 442.8h0M87.7 460.4h0M88.7 460.0h0M90.3 450.2h0M89.1 448.0h0M89.6 449.5h0M86.7 461.3h0M86.0 460.2h0M86.8 461.9h0M106.0 432.6h0M109.4 441.1h0M110.6 440.0h0M86.1 458.5h0M85.3 458.1h0M84.5 458.3h0M88.5 457.0h0M86.4 456.8h0M104.8 438.7h0M105.9 439.2h0M99.5 449.7h0M85.7 456.5h0M86.7 457.6h0M85.4 456.4h0M105.0 439.6h0M106.1 441.0h0M93.4 448.8h0M93.8 448.6h0" stroke="#000" stroke-width="2.5" stroke-linecap="round" fill="none" opacity="1"/>
<line x1="90" y1="459" x2="162.3" y2="388" stroke="#111" stroke-width="0.9"/>
<rect x="209.0" y="373.5" width="132.0" height="124.30000000000001" fill="none" stroke="#c8c8c8" stroke-width="0.8"/>
<text x="215.3" y="510.4" font-size="9.3" text-anchor="middle" font-weight="normal" fill="#000" font-family="Liberation Sans, sans-serif" stroke="#000" stroke-width="0.35">0</text>
<line x1="215.3" y1="497.8" x2="215.3" y2="499.6" stroke="#777" stroke-width="0.8"/>
<text x="255.6" y="510.4" font-size="9.3" text-anchor="middle" font-weight="normal" fill="#000" font-family="Liberation Sans, sans-serif" textLength="22.4" lengthAdjust="spacingAndGlyphs" stroke="#000" stroke-width="0.35">2000</text>
<line x1="255.6" y1="497.8" x2="255.6" y2="499.6" stroke="#777" stroke-width="0.8"/>
<text x="294.6" y="510.4" font-size="9.3" text-anchor="middle" font-weight="normal" fill="#000" font-family="Liberation Sans, sans-serif" textLength="22.4" lengthAdjust="spacingAndGlyphs" stroke="#000" stroke-width="0.35">4000</text>
<line x1="294.6" y1="497.8" x2="294.6" y2="499.6" stroke="#777" stroke-width="0.8"/>
<text x="335.2" y="510.4" font-size="9.3" text-anchor="middle" font-weight="normal" fill="#000" font-family="Liberation Sans, sans-serif" textLength="22.4" lengthAdjust="spacingAndGlyphs" stroke="#000" stroke-width="0.35">6000</text>
<line x1="335.2" y1="497.8" x2="335.2" y2="499.6" stroke="#777" stroke-width="0.8"/>
<text x="201.0" y="491.0" font-size="9.3" text-anchor="middle" font-weight="normal" fill="#000" font-family="Liberation Sans, sans-serif" transform="rotate(-90 201.0 491.0)" stroke="#000" stroke-width="0.35">0</text>
<line x1="207.2" y1="491.0" x2="209.0" y2="491.0" stroke="#777" stroke-width="0.8"/>
<text x="201.0" y="453.5" font-size="9.3" text-anchor="middle" font-weight="normal" fill="#000" font-family="Liberation Sans, sans-serif" transform="rotate(-90 201.0 453.5)" textLength="22.4" lengthAdjust="spacingAndGlyphs" stroke="#000" stroke-width="0.35">2000</text>
<line x1="207.2" y1="453.5" x2="209.0" y2="453.5" stroke="#777" stroke-width="0.8"/>
<text x="201.0" y="416.3" font-size="9.3" text-anchor="middle" font-weight="normal" fill="#000" font-family="Liberation Sans, sans-serif" transform="rotate(-90 201.0 416.3)" textLength="22.4" lengthAdjust="spacingAndGlyphs" stroke="#000" stroke-width="0.35">4000</text>
<line x1="207.2" y1="416.3" x2="209.0" y2="416.3" stroke="#777" stroke-width="0.8"/>
<text x="201.0" y="378.0" font-size="9.3" text-anchor="middle" font-weight="normal" fill="#000" font-family="Liberation Sans, sans-serif" transform="rotate(-90 201.0 378.0)" textLength="22.4" lengthAdjust="spacingAndGlyphs" stroke="#000" stroke-width="0.35">6000</text>
<line x1="207.2" y1="378.0" x2="209.0" y2="378.0" stroke="#777" stroke-width="0.8"/>
<path d="M246.5 463.3h0M243.2 470.9h0M221.7 483.9h0M218.9 487.7h0M228.6 479.3h0M243.8 466.8h0M240.8 465.0h0M227.8 475.5h0M239.6 470.7h0M243.4 461.1h0M216.8 490.0h0M233.5 472.1h0M242.6 465.4h0M245.9 463.7h0M220.3 482.1h0M235.5 478.4h0M225.9 476.9h0M222.6 481.1h0M245.0 464.7h0M232.3 469.1h0M233.9 470.7h0M224.3 482.9h0M239.8 466.8h0M216.1 489.7h0M250.3 457.3h0M232.3 473.7h0M220.7 484.7h0M234.4 478.9h0M241.8 467.7h0M243.6 461.3h0M246.4 460.8h0M244.1 466.3h0M230.1 480.6h0M223.4 479.5h0M240.1 467.1h0M228.3 472.6h0M233.1 471.7h0M248.8 464.0h0M218.6 488.5h0M215.4 489.9h0M222.0 481.4h0M228.7 477.5h0M225.0 481.3h0M247.9 460.7h0M232.0 476.8h0M227.2 479.5h0M225.5 475.8h0M235.7 469.1h0M230.9 474.2h0M217.3 486.4h0M234.6 476.4h0M240.3 463.8h0M243.3 465.7h0M251.4 457.7h0M229.2 477.7h0M245.6 462.1h0M237.0 467.5h0M216.7 489.3h0M241.2 468.9h0M249.8 455.7h0M226.1 483.8h0M227.9 476.6h0M226.1 482.7h0M240.9 465.9h0M250.3 462.6h0M225.6 484.7h0M231.2 480.6h0M246.9 467.3h0M247.1 460.3h0M248.5 455.0h0M241.2 461.9h0M239.3 464.5h0M226.0 482.8h0M225.1 483.6h0M226.1 477.3h0M242.6 466.9h0M233.7 471.5h0M229.3 475.2h0M229.7 477.4h0M235.1 467.5h0M240.3 469.4h0M235.8 473.0h0M253.4 459.8h0M249.7 461.1h0M232.7 475.4h0M227.5 482.3h0M230.6 475.8h0M217.1 489.2h0M231.0 472.1h0M218.2 486.6h0M246.1 462.0h0M230.8 479.3h0M225.2 485.2h0M233.2 479.2h0M223.5 481.9h0M218.2 487.9h0M232.0 472.3h0M228.3 473.3h0M224.6 484.2h0M225.3 477.4h0M226.9 481.7h0M246.4 460.3h0M226.9 479.3h0M228.7 481.1h0M222.6 481.8h0M244.8 465.0h0M236.8 468.0h0M242.3 465.4h0M225.4 480.9h0M220.6 486.0h0M221.0 482.5h0M245.2 462.2h0M217.3 489.4h0M250.3 456.2h0M233.5 475.5h0M239.5 469.7h0M248.7 459.5h0M244.2 462.5h0M232.5 475.2h0M216.9 487.9h0M236.3 472.4h0M230.4 476.7h0M242.2 469.5h0M220.1 485.9h0M227.8 475.8h0M221.1 485.9h0M249.2 458.2h0M233.1 478.6h0M214.4 490.1h0M215.5 489.4h0M238.6 468.0h0M224.4 481.3h0M247.9 460.6h0M235.9 478.0h0M235.1 471.6h0M238.3 473.4h0M243.4 462.8h0M232.5 472.7h0M215.3 490.5h0M247.7 465.1h0M245.5 463.4h0M218.1 488.7h0M236.8 469.0h0M220.8 485.3h0M235.3 478.6h0M225.7 477.5h0M243.2 459.6h0M227.6 478.5h0M249.5 456.1h0M248.8 455.8h0M236.3 465.6h0M240.0 468.7h0M219.4 486.6h0M219.6 485.8h0M225.3 483.2h0M232.9 477.4h0M229.2 477.9h0M222.6 485.7h0M244.6 459.3h0M218.8 487.9h0M225.5 478.1h0M245.4 462.2h0M252.1 460.4h0M239.5 467.8h0M231.4 481.1h0M244.5 467.1h0M250.7 459.9h0M213.8 490.4h0M221.0 485.3h0M228.7 479.3h0M219.2 488.6h0M226.7 479.8h0M242.9 460.7h0M217.1 490.3h0M218.1 484.9h0M215.0 489.7h0M217.8 484.8h0M217.5 488.5h0M240.1 469.9h0M246.7 464.1h0M220.5 483.4h0M248.3 461.3h0M251.0 458.2h0M239.9 469.3h0M236.0 474.1h0M231.5 476.8h0M239.4 473.7h0M221.0 482.8h0M232.7 476.0h0M247.9 461.3h0M242.3 462.2h0M217.9 488.6h0M225.4 480.9h0M215.5 489.0h0M221.7 485.9h0M237.1 470.0h0M244.0 467.0h0M243.3 463.8h0M219.7 489.2h0M243.3 466.2h0M230.9 477.4h0M249.7 461.9h0M252.1 462.2h0M239.5 468.4h0M222.1 485.0h0M215.5 490.5h0M227.4 480.5h0M236.4 465.8h0M253.5 459.8h0M232.0 480.7h0M215.8 492.3h0M223.2 483.7h0M248.6 455.8h0M240.3 464.7h0M239.8 468.6h0M240.7 466.0h0M229.6 472.6h0M218.4 486.8h0M244.5 459.2h0M244.0 460.4h0M220.8 486.1h0M218.8 485.9h0M232.9 470.4h0M234.5 470.2h0M249.6 457.1h0M238.9 470.3h0M244.6 466.2h0M217.0 490.3h0M230.8 474.7h0M215.9 489.4h0M219.8 489.7h0M228.9 478.4h0M228.4 476.9h0M228.1 481.3h0M233.2 470.8h0M245.3 467.5h0M247.5 466.0h0M240.3 469.9h0M239.4 463.0h0M217.7 489.0h0M247.7 462.8h0M236.3 472.4h0M251.5 462.8h0M225.7 479.2h0M225.3 480.2h0M227.2 482.7h0M248.9 460.0h0M231.2 479.6h0M246.5 462.2h0M240.0 466.4h0M232.7 471.5h0M243.5 464.4h0M220.0 485.7h0M245.2 465.8h0M242.1 467.4h0M232.7 469.2h0M237.9 473.1h0M225.5 480.4h0M249.4 456.2h0M216.0 492.8h0M215.4 490.6h0M240.6 468.0h0M245.0 465.2h0M244.0 461.2h0M242.2 466.5h0M249.8 459.9h0M237.0 469.2h0M217.1 489.7h0M232.7 477.4h0M239.8 469.2h0M225.5 475.8h0M224.7 481.4h0M233.1 475.6h0M240.1 472.9h0M252.6 458.5h0M233.0 476.1h0M220.2 484.0h0M251.6 459.3h0M225.5 485.9h0M249.7 459.4h0M218.5 487.2h0M219.5 487.3h0M252.7 458.3h0M228.2 477.8h0M229.1 478.7h0M228.2 475.8h0M217.8 488.1h0M246.4 462.2h0M225.3 480.4h0M224.9 479.4h0M235.0 478.4h0M245.3 463.5h0M231.3 478.7h0M216.4 487.5h0M241.0 466.7h0M239.6 467.6h0M252.6 461.7h0M226.9 482.4h0M239.0 468.7h0M236.6 473.2h0M214.9 491.4h0M221.4 486.2h0M226.4 475.9h0M246.6 456.6h0M231.4 475.7h0M244.3 464.2h0M239.6 468.6h0M234.9 477.4h0M229.5 477.2h0M230.5 477.1h0M227.4 478.4h0M227.0 474.6h0M217.5 486.7h0M224.8 480.2h0M240.8 466.7h0M226.7 484.2h0M236.4 472.5h0M223.5 482.8h0M230.6 471.0h0M218.7 488.9h0M247.4 459.9h0M237.1 464.9h0M236.8 471.7h0M237.8 470.7h0M220.3 487.0h0M246.2 463.2h0M233.2 471.8h0M218.4 487.6h0M218.3 486.3h0M220.1 486.0h0M239.6 469.5h0M226.1 482.0h0M227.2 477.5h0M251.1 461.9h0M250.6 457.8h0M234.1 467.5h0M219.6 489.2h0M229.2 480.8h0M251.4 461.3h0M219.9 486.4h0M250.6 457.5h0M216.4 488.7h0M250.6 460.3h0M238.7 471.9h0M217.8 489.8h0M217.1 490.5h0M242.1 464.2h0M237.9 470.9h0M252.6 458.3h0M241.4 466.7h0M221.0 489.0h0M244.1 458.9h0M217.5 489.6h0M219.3 486.7h0M218.4 488.1h0M235.5 472.4h0M225.5 481.1h0M238.6 469.9h0M248.5 460.0h0M220.1 483.6h0M215.7 491.4h0M232.2 477.3h0M244.9 460.5h0M248.9 461.3h0M240.6 467.6h0M240.9 468.5h0M228.0 479.2h0M248.1 458.3h0M239.5 469.8h0M239.5 463.4h0M230.7 481.1h0M222.4 482.4h0M237.5 468.2h0M217.0 490.3h0M222.9 483.7h0M220.6 487.5h0M239.5 474.3h0M235.3 474.7h0M232.1 475.0h0M245.4 460.3h0M217.6 488.6h0M244.2 461.3h0M241.5 467.4h0M224.0 477.6h0M225.4 479.5h0M230.6 475.0h0M226.5 477.7h0M231.8 477.7h0M237.0 473.2h0M246.0 457.2h0M219.3 489.3h0M222.5 483.2h0M240.6 468.3h0M245.7 464.2h0M251.5 456.5h0M248.5 460.5h0M218.7 488.8h0M224.9 480.4h0M220.9 486.1h0M237.6 473.2h0M223.0 483.5h0M237.2 470.0h0M220.9 484.7h0M246.5 460.5h0M219.8 486.1h0M232.2 471.1h0M215.4 490.6h0M229.1 476.0h0M221.6 485.7h0M234.6 478.5h0M218.8 489.1h0M216.2 489.3h0M227.1 481.4h0M242.0 466.2h0M233.6 471.5h0M232.0 477.4h0M234.9 476.5h0M242.8 467.5h0M222.8 484.1h0M215.5 489.2h0M246.1 461.7h0M244.9 465.4h0M243.2 466.0h0M252.9 458.3h0M241.0 465.7h0M230.1 471.0h0M224.6 484.5h0M242.7 467.8h0M226.6 484.2h0M224.6 485.6h0M223.3 485.5h0M248.8 458.8h0M216.3 487.6h0M218.7 486.5h0M237.8 467.4h0M247.2 457.6h0M246.8 460.5h0M248.3 463.2h0M247.5 459.4h0M239.1 469.1h0M220.0 487.7h0M227.9 476.5h0M223.4 482.5h0M249.1 457.8h0M216.5 487.1h0M248.2 461.9h0M247.5 463.3h0M216.7 490.7h0M230.9 476.4h0M221.3 483.3h0M221.9 487.3h0M226.8 474.3h0M219.7 487.2h0M249.0 458.9h0M220.6 483.1h0M234.2 476.6h0M231.0 480.8h0M220.5 485.2h0M236.3 470.0h0M234.5 473.5h0M230.7 475.7h0M215.5 493.1h0M226.4 477.5h0M230.2 474.3h0M238.6 470.4h0M229.5 475.8h0M243.3 463.2h0M236.1 470.0h0M223.8 482.4h0M238.8 472.3h0M221.3 482.8h0M235.6 474.7h0M240.9 464.2h0M242.6 462.5h0M219.5 488.4h0M229.0 479.4h0M227.5 481.7h0M230.5 479.4h0M235.1 470.8h0M240.5 464.9h0M246.4 462.8h0M238.3 466.9h0M248.3 460.0h0M252.6 461.1h0M222.0 481.5h0M233.5 470.5h0M219.5 488.3h0M236.6 474.1h0M239.0 468.3h0M239.9 468.8h0M240.7 466.2h0M227.8 477.7h0M231.1 476.6h0M222.1 486.1h0M228.0 474.6h0M232.4 469.9h0M243.7 465.2h0M248.3 458.7h0M252.0 458.8h0M237.8 470.3h0M249.7 458.1h0M222.0 484.6h0M219.0 490.6h0M229.4 477.7h0M245.0 461.5h0M220.5 482.5h0M235.4 474.3h0M250.9 462.2h0M220.1 486.7h0M247.6 461.4h0M241.7 466.2h0M229.4 478.7h0M214.8 490.9h0M229.9 478.5h0M217.8 489.1h0M246.8 462.3h0M251.9 461.8h0M224.0 481.6h0M247.3 460.6h0M235.1 470.1h0M243.5 464.3h0M251.8 457.5h0M244.3 469.1h0M232.1 474.7h0M218.3 487.7h0M215.0 491.3h0M247.2 459.0h0M246.8 461.4h0M240.0 462.4h0M234.4 475.2h0M239.5 470.5h0M221.6 486.6h0M241.7 471.3h0M229.3 479.9h0M218.2 490.1h0M224.5 484.1h0M241.2 467.6h0M252.2 458.0h0M237.2 473.0h0M234.5 475.3h0M225.6 477.7h0M232.4 471.7h0M232.9 472.5h0M223.6 480.0h0M237.7 468.1h0M242.7 463.0h0M249.1 456.6h0M224.0 482.5h0M228.6 481.7h0M246.8 465.6h0M224.2 486.1h0M223.2 486.4h0M220.0 482.3h0M232.8 480.0h0M232.4 475.9h0M233.3 469.6h0M231.5 473.2h0M216.4 488.9h0M245.7 460.5h0M245.5 465.9h0M318.8 378.5h0M323.5 382.5h0M305.8 395.0h0M306.0 398.0h0M306.0 408.0h0M306.0 418.0h0M297.0 410.0h0M297.5 423.0h0M290.0 430.0h0M270.0 428.0h0M296.0 433.0h0M271.0 442.0h0" stroke="#000" stroke-width="2.2" stroke-linecap="round" fill="none" opacity="1"/>
<path d="M254.4 459.9h0M284.4 427.5h0M283.5 429.2h0M294.4 423.6h0M292.8 418.4h0M296.4 417.5h0M267.7 445.3h0M270.0 446.5h0M292.0 417.6h0M292.0 422.2h0M290.8 420.2h0M282.9 423.5h0M293.0 414.5h0M321.8 398.6h0M320.9 397.6h0M320.0 396.9h0M322.6 385.6h0M319.1 392.8h0M320.4 395.6h0M321.4 391.9h0M322.6 393.3h0M299.4 406.0h0M301.9 403.5h0M298.8 405.9h0M302.1 404.5h0M265.2 446.6h0M266.2 445.4h0M264.6 443.3h0M266.4 447.3h0M252.1 452.8h0M253.8 452.0h0M249.9 454.6h0M253.1 455.3h0M297.6 421.5h0M298.3 421.8h0M297.7 422.0h0M297.6 420.8h0M253.0 455.0h0M266.6 445.5h0M267.5 443.2h0M334.5 388.6h0M331.8 390.6h0M289.0 428.1h0M287.2 427.7h0M291.5 430.4h0M288.1 429.5h0M304.1 412.8h0M271.0 433.9h0M260.9 455.1h0M328.1 393.7h0M327.9 393.8h0M325.8 395.2h0M312.4 396.3h0M314.4 398.7h0M328.2 387.7h0M327.9 387.1h0M255.6 450.9h0M257.5 451.0h0M256.5 451.2h0M300.0 409.1h0M301.3 407.8h0M259.1 450.2h0M261.7 450.1h0M260.4 450.3h0M259.8 450.2h0M323.1 394.7h0M263.4 449.3h0M263.2 447.7h0M261.9 449.0h0M262.0 447.9h0M296.9 420.9h0M297.1 422.3h0M318.3 397.6h0M318.3 399.0h0M320.7 394.7h0M260.4 453.2h0M265.6 440.3h0M264.9 441.7h0M263.9 439.9h0M266.2 442.2h0M254.8 456.0h0M255.2 456.3h0M252.4 456.3h0M254.0 454.5h0M286.4 425.1h0M312.0 403.4h0M312.6 405.8h0M288.7 416.6h0M289.5 416.1h0M290.7 417.1h0M288.3 417.3h0M287.7 428.0h0M289.6 427.0h0M256.5 447.1h0M258.5 448.7h0M254.9 449.0h0M320.4 390.7h0M320.0 391.0h0M319.6 389.4h0M271.6 440.3h0M273.8 443.4h0M273.4 443.2h0M275.1 442.7h0M270.5 434.9h0M268.3 432.4h0M268.2 433.4h0M262.5 446.8h0M262.7 446.1h0M258.6 447.2h0M316.3 404.3h0M315.4 405.7h0M314.2 405.8h0M313.9 405.8h0M264.2 451.5h0M261.1 452.5h0M262.5 454.5h0M260.7 454.3h0M283.4 427.4h0M265.6 444.2h0M267.9 444.1h0M311.2 404.9h0M251.1 449.6h0M270.5 445.0h0M272.9 443.4h0M282.0 425.7h0M282.7 427.7h0M281.9 427.1h0M289.2 421.2h0M285.5 421.5h0M287.3 421.9h0M287.9 422.3h0M312.1 406.4h0M317.3 399.6h0M257.6 452.0h0M260.6 451.6h0M274.3 439.4h0M272.0 440.4h0M323.7 391.2h0M254.0 450.7h0M253.7 453.0h0M253.5 447.3h0M253.2 446.1h0M253.4 448.2h0M253.7 447.1h0M291.7 422.9h0M292.3 423.1h0M272.0 442.7h0M271.2 442.8h0M271.0 443.6h0M271.1 441.7h0M252.9 455.1h0M253.5 455.8h0M299.1 418.3h0M301.4 418.5h0M301.3 419.8h0M301.4 419.7h0M315.0 393.4h0M315.1 394.6h0M317.8 395.5h0M258.0 447.8h0M256.4 447.0h0M259.0 447.5h0M255.1 458.6h0M254.8 457.3h0M254.6 460.2h0M306.1 405.1h0M307.0 403.4h0M250.1 456.0h0M231.8 471.0h0M244.8 464.6h0M240.7 461.9h0M242.6 461.5h0M243.6 460.1h0M243.8 456.1h0M244.5 455.2h0M246.2 457.7h0M242.0 470.0h0M233.7 471.9h0M236.4 472.0h0M235.5 471.2h0M240.8 470.6h0M238.5 472.2h0M236.1 469.7h0M236.5 470.0h0M244.6 462.0h0M237.3 478.9h0M238.6 475.4h0M241.9 468.6h0M241.8 467.9h0M247.2 462.5h0M235.5 476.4h0M236.3 464.4h0M252.7 459.8h0M252.3 458.8h0M252.6 459.2h0M240.8 473.7h0M241.4 474.5h0" stroke="#000" stroke-width="2.5" stroke-linecap="round" fill="none" opacity="1"/>
<line x1="240" y1="467" x2="332.7" y2="380.4" stroke="#111" stroke-width="0.9"/>
<rect x="370.4" y="371.9" width="132.40000000000003" height="125.40000000000003" fill="none" stroke="#c8c8c8" stroke-width="0.8"/>
<text x="391.7" y="510.3" font-size="9.3" text-anchor="middle" font-weight="normal" fill="#000" font-family="Liberation Sans, sans-serif" stroke="#000" stroke-width="0.35">0</text>
<line x1="391.7" y1="497.3" x2="391.7" y2="499.1" stroke="#777" stroke-width="0.8"/>
<text x="425.2" y="510.3" font-size="9.3" text-anchor="middle" font-weight="normal" fill="#000" font-family="Liberation Sans, sans-serif" textLength="22.4" lengthAdjust="spacingAndGlyphs" stroke="#000" stroke-width="0.35">2000</text>
<line x1="425.2" y1="497.3" x2="425.2" y2="499.1" stroke="#777" stroke-width="0.8"/>
<text x="460.8" y="510.3" font-size="9.3" text-anchor="middle" font-weight="normal" fill="#000" font-family="Liberation Sans, sans-serif" textLength="22.4" lengthAdjust="spacingAndGlyphs" stroke="#000" stroke-width="0.35">4000</text>
<line x1="460.8" y1="497.3" x2="460.8" y2="499.1" stroke="#777" stroke-width="0.8"/>
<text x="497.0" y="510.3" font-size="9.3" text-anchor="middle" font-weight="normal" fill="#000" font-family="Liberation Sans, sans-serif" textLength="22.4" lengthAdjust="spacingAndGlyphs" stroke="#000" stroke-width="0.35">6000</text>
<line x1="497.0" y1="497.3" x2="497.0" y2="499.1" stroke="#777" stroke-width="0.8"/>
<text x="362.3" y="489.0" font-size="9.3" text-anchor="middle" font-weight="normal" fill="#000" font-family="Liberation Sans, sans-serif" transform="rotate(-90 362.3 489.0)" stroke="#000" stroke-width="0.35">0</text>
<line x1="368.59999999999997" y1="489.0" x2="370.4" y2="489.0" stroke="#777" stroke-width="0.8"/>
<text x="362.3" y="454.2" font-size="9.3" text-anchor="middle" font-weight="normal" fill="#000" font-family="Liberation Sans, sans-serif" transform="rotate(-90 362.3 454.2)" textLength="22.4" lengthAdjust="spacingAndGlyphs" stroke="#000" stroke-width="0.35">2000</text>
<line x1="368.59999999999997" y1="454.2" x2="370.4" y2="454.2" stroke="#777" stroke-width="0.8"/>
<text x="362.3" y="418.9" font-size="9.3" text-anchor="middle" font-weight="normal" fill="#000" font-family="Liberation Sans, sans-serif" transform="rotate(-90 362.3 418.9)" textLength="22.4" lengthAdjust="spacingAndGlyphs" stroke="#000" stroke-width="0.35">4000</text>
<line x1="368.59999999999997" y1="418.9" x2="370.4" y2="418.9" stroke="#777" stroke-width="0.8"/>
<text x="362.3" y="383.4" font-size="9.3" text-anchor="middle" font-weight="normal" fill="#000" font-family="Liberation Sans, sans-serif" transform="rotate(-90 362.3 383.4)" textLength="22.4" lengthAdjust="spacingAndGlyphs" stroke="#000" stroke-width="0.35">6000</text>
<line x1="368.59999999999997" y1="383.4" x2="370.4" y2="383.4" stroke="#777" stroke-width="0.8"/>
<path d="M409.5 472.8h0M420.4 462.8h0M393.0 488.4h0M406.2 477.2h0M402.0 479.6h0M394.2 483.3h0M415.3 464.2h0M406.2 475.3h0M408.0 472.9h0M400.6 484.6h0M407.8 475.9h0M408.9 466.9h0M395.7 485.0h0M398.2 483.6h0M400.2 482.0h0M405.4 476.0h0M401.3 475.6h0M405.2 477.0h0M407.1 472.7h0M409.3 464.2h0M407.8 465.8h0M404.8 470.4h0M411.7 465.5h0M399.3 478.1h0M399.1 479.5h0M395.2 483.5h0M410.1 468.5h0M402.3 481.0h0M402.1 480.8h0M405.4 469.1h0M402.0 482.3h0M412.6 473.3h0M406.6 471.6h0M408.5 479.3h0M409.0 472.1h0M406.4 470.3h0M402.7 483.5h0M409.1 471.2h0M396.5 484.5h0M400.9 486.3h0M409.5 477.3h0M395.3 486.5h0M406.2 472.3h0M415.0 465.3h0M415.3 465.8h0M401.2 483.3h0M393.1 485.1h0M399.0 484.1h0M410.5 471.2h0M406.0 473.9h0M406.6 475.4h0M414.7 468.3h0M390.5 489.8h0M413.3 462.2h0M404.3 476.5h0M402.4 478.4h0M411.0 469.3h0M398.6 484.4h0M420.4 466.8h0M407.1 472.2h0M414.5 466.7h0M394.3 490.0h0M394.5 487.1h0M415.4 463.1h0M393.9 489.3h0M412.3 469.7h0M390.6 491.0h0M398.8 484.5h0M399.1 483.9h0M414.9 466.2h0M401.0 483.5h0M395.1 483.6h0M392.2 491.9h0M398.3 482.2h0M414.9 464.7h0M405.3 474.5h0M390.9 490.1h0M393.7 489.6h0M401.0 486.2h0M412.8 468.3h0M397.9 487.2h0M390.7 490.9h0M417.4 460.0h0M417.5 462.2h0M407.1 471.5h0M395.8 484.6h0M408.6 474.9h0M398.1 485.2h0M410.9 473.0h0M392.1 490.9h0M411.0 468.7h0M415.1 463.5h0M415.3 468.7h0M397.6 484.2h0M394.5 490.4h0M419.8 463.5h0M407.5 481.0h0M411.1 468.3h0M420.0 465.0h0M396.8 482.6h0M421.3 463.4h0M401.8 482.4h0M411.2 475.0h0M409.6 464.7h0M409.6 478.0h0M409.8 470.7h0M415.8 463.8h0M414.1 461.0h0M401.1 478.4h0M392.7 492.3h0M406.6 480.9h0M416.4 465.9h0M391.1 490.8h0M413.2 469.9h0M397.0 481.0h0M411.2 468.6h0M402.5 476.9h0M414.5 470.2h0M406.3 469.0h0M394.3 487.4h0M396.5 486.8h0M406.5 477.1h0M410.4 465.5h0M409.1 469.8h0M405.3 468.3h0M404.4 480.1h0M417.4 460.9h0M417.0 461.6h0M396.3 484.5h0M403.0 483.4h0M406.2 474.7h0M391.0 490.3h0M410.1 474.8h0M403.7 479.9h0M407.4 473.5h0M395.3 484.8h0M418.8 461.2h0M394.6 489.1h0M415.4 464.3h0M399.3 482.4h0M418.1 465.3h0M415.6 461.7h0M402.5 481.6h0M402.9 477.4h0M411.7 464.4h0M403.7 480.8h0M398.7 485.5h0M395.3 485.4h0M392.8 488.5h0M392.3 492.6h0M408.1 473.8h0M415.5 458.6h0M408.0 470.0h0M392.8 490.8h0M412.0 466.8h0M400.4 484.4h0M401.7 479.0h0M411.2 472.0h0M398.4 484.1h0M403.2 479.9h0M412.1 469.4h0M401.8 480.3h0M392.2 488.5h0M417.8 467.0h0M406.2 473.6h0M406.4 471.0h0M411.0 476.2h0M391.3 490.7h0M400.0 486.2h0M394.3 483.3h0M394.4 489.1h0M396.1 486.6h0M409.8 468.6h0M406.3 479.4h0M406.7 470.9h0M398.8 483.8h0M416.2 462.5h0M397.1 487.4h0M409.7 467.5h0M413.5 468.1h0M410.0 471.7h0M395.2 482.0h0M408.8 479.9h0M391.6 491.8h0M419.6 462.1h0M399.8 484.7h0M391.8 490.5h0M401.6 478.7h0M403.3 470.4h0M404.8 474.8h0M409.3 471.6h0M402.6 481.0h0M410.7 470.7h0M412.6 469.2h0M417.8 463.1h0M393.7 489.8h0M415.1 466.8h0M404.9 477.4h0M394.8 489.7h0M412.4 462.7h0M416.1 462.9h0M395.3 488.9h0M396.0 486.4h0M416.7 460.4h0M415.2 464.4h0M412.4 467.9h0M405.5 476.5h0M404.6 483.4h0M410.7 476.0h0M409.3 470.2h0M406.5 475.9h0M422.1 464.7h0M404.7 475.3h0M405.0 479.5h0M395.9 486.0h0M415.0 462.1h0M404.3 476.7h0M407.6 474.1h0M420.6 464.0h0M413.8 464.1h0M392.8 492.5h0M393.2 489.3h0M407.1 473.8h0M397.3 482.4h0M399.5 475.6h0M391.9 491.2h0M411.7 466.3h0M414.0 466.9h0M400.3 481.0h0M406.1 467.4h0M390.6 491.5h0M401.0 480.6h0M397.9 484.2h0M397.1 485.4h0M401.9 479.7h0M391.3 490.0h0M413.1 467.1h0M398.6 481.8h0M403.3 478.0h0M398.4 483.8h0M401.7 479.8h0M417.9 469.2h0M412.4 464.1h0M409.9 464.2h0M417.3 464.5h0M395.6 485.5h0M419.1 461.6h0M413.6 466.1h0M394.8 488.4h0M411.5 467.5h0M403.4 476.2h0M409.5 479.0h0M392.3 492.5h0M407.1 470.1h0M391.6 490.7h0M412.1 473.3h0M405.7 476.1h0M399.2 479.3h0M411.4 470.9h0M413.3 470.3h0M405.7 474.6h0M407.2 475.1h0M409.8 469.1h0M419.3 465.3h0M412.9 475.6h0M397.8 484.9h0M396.7 484.3h0M418.8 464.1h0M413.6 467.8h0M399.4 483.1h0M408.7 468.9h0M411.6 466.7h0M412.6 464.6h0M410.1 468.1h0M398.0 483.9h0M414.3 464.2h0M413.6 474.1h0M415.1 464.9h0M397.1 484.2h0M414.3 466.6h0M412.9 471.7h0M401.1 484.3h0M410.3 466.8h0M393.3 487.4h0M392.0 489.1h0M413.1 466.9h0M391.3 491.7h0M400.5 486.0h0M393.5 491.9h0M413.2 464.5h0M396.0 480.7h0M408.4 467.0h0M410.9 466.7h0M412.3 468.0h0M397.3 486.4h0M390.1 490.9h0M404.0 480.4h0M402.9 481.7h0M394.4 483.1h0M412.3 463.2h0M415.7 471.0h0M409.7 469.9h0M409.9 470.7h0M412.8 475.8h0M396.8 486.1h0M396.7 485.1h0M399.8 475.1h0M402.9 478.3h0M400.8 482.1h0M391.2 490.2h0M404.4 482.0h0M416.1 460.7h0M394.2 491.0h0M391.3 492.2h0M393.7 487.7h0M396.8 487.0h0M412.8 473.5h0M404.3 479.7h0M413.4 462.1h0M398.7 485.6h0M392.2 490.1h0M420.1 462.6h0M408.2 476.2h0M408.9 471.5h0M416.1 467.7h0M409.3 469.0h0M405.2 480.3h0M400.9 479.4h0M402.4 481.6h0M399.5 483.3h0M417.6 460.4h0M418.8 466.0h0M401.8 474.5h0M398.5 486.0h0M403.9 476.3h0M412.7 467.9h0M397.9 484.4h0M396.2 484.3h0M402.6 480.6h0M400.9 477.0h0M411.7 461.6h0M409.4 471.4h0M402.5 473.5h0M396.4 488.4h0M398.3 483.5h0M396.4 485.9h0M413.1 463.0h0M394.7 489.7h0M394.2 486.6h0M401.7 475.8h0M396.6 481.8h0M391.1 490.5h0M403.9 481.4h0M392.5 491.4h0M413.0 467.5h0M413.8 464.6h0M402.4 478.6h0M404.4 481.7h0M414.6 467.2h0M391.5 491.8h0M400.7 485.5h0M413.1 466.8h0M418.2 462.3h0M393.7 485.2h0M394.4 486.6h0M413.0 465.5h0M400.9 480.6h0M406.8 475.8h0M411.0 467.2h0M396.5 486.7h0M420.0 462.7h0M411.6 467.0h0M392.5 490.4h0M419.1 462.2h0M405.2 470.4h0M400.5 484.6h0M411.5 467.2h0M403.7 478.0h0M408.7 465.8h0M396.9 486.5h0M405.4 477.7h0M410.8 469.4h0M398.3 481.3h0M401.8 481.3h0M396.9 481.0h0M411.0 472.7h0M416.8 466.0h0M412.5 470.9h0M418.1 466.4h0M416.7 462.7h0M402.9 479.8h0M405.3 478.8h0M403.8 479.7h0M394.6 485.9h0M402.4 478.7h0M406.5 472.8h0M410.9 470.9h0M393.8 489.3h0M393.7 490.9h0M398.3 486.1h0M403.2 482.3h0M392.5 489.7h0M404.1 482.3h0M408.9 475.6h0M420.9 466.2h0M413.4 469.5h0M413.5 459.8h0M400.3 486.5h0M411.5 465.3h0M414.4 466.3h0M393.7 488.6h0M415.1 464.9h0M416.8 469.7h0M405.1 479.4h0M410.7 472.3h0M392.2 490.1h0M403.1 477.9h0M391.7 491.6h0M406.5 476.6h0M408.4 472.6h0M398.6 478.0h0M395.4 488.1h0M404.3 477.5h0M390.4 491.4h0M401.5 482.3h0M399.6 484.8h0M413.7 466.2h0M421.6 465.4h0M390.7 490.8h0M398.8 483.3h0M408.9 473.4h0M398.7 484.1h0M407.8 478.1h0M414.0 464.3h0M409.3 468.2h0M414.3 473.5h0M402.6 479.1h0M409.4 473.8h0M404.6 479.6h0M407.3 478.0h0M406.3 477.3h0M408.1 469.5h0M407.0 473.3h0M410.9 470.4h0M409.5 474.2h0M394.5 491.2h0M395.6 484.6h0M419.7 461.7h0M399.0 483.7h0M394.9 488.4h0M397.5 478.6h0M400.3 477.6h0M400.0 481.2h0M404.5 473.6h0M397.0 484.1h0M392.4 489.8h0M397.9 485.6h0M398.0 480.0h0M391.5 488.8h0M392.5 488.2h0M410.2 473.4h0M392.5 488.1h0M395.3 489.4h0M401.1 482.6h0M405.6 476.1h0M394.7 484.8h0M394.1 488.4h0M403.8 477.3h0M405.2 474.3h0M399.4 477.9h0M407.0 471.2h0M407.3 470.1h0M416.6 461.0h0M412.3 468.8h0M395.1 485.6h0M400.9 477.2h0M419.2 466.4h0M414.6 467.7h0M406.5 481.7h0M406.1 478.5h0M391.9 489.9h0M407.1 475.9h0M404.4 477.7h0M396.9 486.2h0M407.9 475.2h0M402.9 478.4h0M415.7 467.7h0M391.9 492.4h0M400.7 473.8h0M413.8 468.0h0M401.7 481.5h0M406.1 473.3h0M414.1 471.9h0M407.9 474.6h0M400.7 484.9h0M401.0 485.1h0M405.9 480.1h0M409.1 470.3h0M393.6 489.1h0M405.5 475.6h0M395.9 483.6h0M402.7 478.0h0M394.4 489.5h0M416.0 458.7h0M414.6 467.7h0M411.8 464.3h0M393.3 486.3h0M414.6 466.7h0M397.9 480.8h0M402.9 481.5h0M404.1 480.1h0M403.5 479.3h0M390.8 491.1h0M414.9 465.2h0M405.2 480.2h0M397.7 488.2h0M398.4 481.4h0M412.0 461.4h0M396.6 484.9h0M400.9 481.2h0M396.9 486.0h0M393.9 490.2h0M395.1 484.9h0M400.2 478.2h0M395.0 484.7h0M416.7 465.4h0M403.0 477.7h0M414.3 468.6h0M412.0 470.4h0M414.3 468.3h0M406.9 473.7h0M409.9 472.3h0M394.0 487.6h0M407.6 475.0h0M408.8 472.9h0M412.1 469.5h0M396.9 486.2h0M402.1 480.8h0M413.9 466.1h0M410.3 469.8h0M394.2 487.6h0M403.8 471.2h0M395.5 488.7h0M410.0 476.3h0M415.0 459.7h0M407.2 480.7h0M403.9 481.7h0M401.4 481.9h0M409.9 471.2h0M404.6 477.2h0M394.5 486.7h0M392.9 488.8h0M418.6 460.7h0M391.7 492.0h0M394.8 483.3h0M391.5 490.5h0M394.8 485.5h0M397.0 483.6h0M394.7 485.0h0M393.5 488.1h0M496.5 376.5h0M492.0 389.6h0M468.0 398.0h0M486.0 397.0h0M491.0 406.0h0M482.0 410.0h0M474.0 413.0h0M452.0 415.5h0M466.5 424.6h0M458.0 430.0h0M443.0 424.4h0M374.6 489.5h0M387.0 490.0h0" stroke="#000" stroke-width="2.2" stroke-linecap="round" fill="none" opacity="1"/>
<path d="M450.2 421.1h0M451.6 423.8h0M449.9 423.1h0M472.8 399.2h0M473.5 403.8h0M474.9 404.5h0M474.9 403.9h0M468.4 404.0h0M469.5 405.6h0M471.2 406.1h0M462.9 417.0h0M464.4 417.3h0M464.1 417.3h0M465.0 417.3h0M462.6 424.3h0M463.8 424.9h0M461.4 423.5h0M450.2 431.2h0M467.4 411.0h0M464.4 410.3h0M465.5 410.0h0M438.9 450.7h0M438.4 449.4h0M428.0 450.0h0M425.0 449.9h0M427.1 449.5h0M444.9 421.0h0M448.3 421.2h0M457.9 428.0h0M459.8 430.2h0M459.3 428.0h0M420.3 457.2h0M421.7 456.9h0M419.2 459.7h0M418.8 457.1h0M446.9 435.5h0M449.0 438.3h0M446.2 435.9h0M462.1 416.9h0M432.7 452.2h0M433.3 451.4h0M433.8 451.2h0M432.7 452.4h0M449.4 431.1h0M467.5 421.5h0M468.1 419.0h0M423.9 453.5h0M441.5 443.0h0M442.8 443.5h0M425.1 458.5h0M423.6 456.9h0M423.3 458.2h0M471.4 414.1h0M471.4 413.0h0M469.5 411.2h0M471.6 413.0h0M479.8 401.2h0M438.8 440.4h0M457.7 413.8h0M459.8 412.0h0M457.4 413.0h0M455.6 429.4h0M454.0 427.7h0M456.4 412.5h0M456.2 415.5h0M476.2 399.8h0M476.2 400.5h0M430.4 452.9h0M429.8 455.9h0M431.2 453.3h0M427.6 453.6h0M475.6 400.6h0M475.9 400.2h0M477.4 400.7h0M481.6 400.9h0M478.6 399.7h0M480.1 401.1h0M436.2 450.2h0M433.8 451.4h0M434.8 450.9h0M423.8 461.3h0M470.1 404.9h0M476.1 400.3h0M476.5 405.4h0M477.0 407.4h0M474.2 409.4h0M436.9 445.0h0M435.9 444.6h0M449.7 427.6h0M448.3 429.0h0M449.2 427.2h0M449.2 427.7h0M437.0 437.3h0M436.6 438.6h0M435.9 439.8h0M436.2 440.9h0M473.0 403.6h0M473.0 405.4h0M475.7 403.2h0M467.0 408.6h0M465.1 410.9h0M463.0 418.0h0M469.4 411.5h0M466.6 412.1h0M467.9 411.7h0M424.3 449.1h0M421.9 449.1h0M421.8 448.9h0M475.5 397.3h0M473.2 398.0h0M420.0 462.4h0M420.8 464.4h0M443.1 441.0h0M438.5 445.8h0M436.7 444.2h0M439.8 445.5h0M424.6 457.4h0M470.8 408.5h0M470.1 409.8h0M468.3 409.1h0M449.2 427.5h0M447.1 427.1h0M450.5 426.0h0M470.8 399.7h0M473.1 399.7h0M472.1 399.2h0M470.9 401.3h0M467.7 402.1h0M466.7 398.1h0M467.1 400.4h0M468.0 400.3h0M421.7 460.3h0M474.2 400.6h0M475.5 401.3h0M475.2 400.1h0M429.6 458.3h0M428.9 458.5h0M430.6 453.8h0M429.6 458.7h0M416.5 457.1h0M416.3 458.8h0M418.3 458.3h0M451.8 424.3h0M417.9 458.1h0M417.9 459.6h0M444.2 430.4h0M443.4 431.0h0M443.2 431.2h0M444.6 429.9h0M429.5 453.5h0M428.3 452.7h0M428.7 455.1h0M428.5 454.1h0M423.0 457.5h0M423.8 459.3h0M470.6 412.0h0M472.3 409.9h0M418.4 460.0h0M418.1 458.3h0M418.6 458.7h0M470.8 407.8h0M471.0 408.2h0M471.6 407.4h0M470.4 408.1h0M429.9 460.3h0M423.3 458.0h0M435.4 439.7h0M437.7 429.2h0M427.0 454.3h0M441.8 433.4h0M443.2 434.1h0M444.0 434.8h0M442.5 433.6h0M442.3 428.9h0M441.0 428.5h0M444.5 433.6h0M427.4 458.1h0M429.1 457.9h0M442.4 443.3h0M451.2 421.3h0M454.0 419.7h0M451.2 422.2h0M451.4 421.5h0M435.5 449.0h0M433.1 447.2h0M415.0 475.4h0M416.7 462.7h0M405.7 478.0h0M407.7 478.2h0M406.8 478.2h0M416.7 462.1h0M414.9 462.2h0M415.0 463.0h0M406.9 470.9h0M407.3 472.2h0M411.5 458.6h0M410.4 459.1h0M411.5 458.1h0M409.1 470.9h0M407.8 472.7h0M408.4 471.2h0M413.4 459.9h0M412.2 458.4h0M404.0 471.1h0M404.1 473.3h0M403.6 471.8h0M423.8 465.8h0M421.4 467.2h0M423.1 467.2h0M408.9 479.5h0M408.6 478.3h0M409.6 477.5h0M406.4 475.0h0M406.0 474.8h0M418.0 473.5h0M418.0 473.3h0M407.8 475.5h0M409.6 477.3h0M408.7 476.7h0M408.0 475.4h0M403.4 473.5h0" stroke="#000" stroke-width="2.5" stroke-linecap="round" fill="none" opacity="1"/>
<line x1="420" y1="459" x2="488.8" y2="385" stroke="#111" stroke-width="0.9"/>
<path d="M174.6 378.2h0M176.8 378.2h0" stroke="#555" stroke-width="1.3" stroke-linecap="round" fill="none" opacity="1"/>
<circle cx="52.7" cy="333.8" r="1.3" fill="none" stroke="#888" stroke-width="0.7"/>
<line x1="47.4" y1="221" x2="47.4" y2="250" stroke="#222" stroke-width="1.3"/>
<line x1="47.4" y1="250" x2="47.4" y2="300" stroke="#888" stroke-width="0.9"/>
<line x1="369.0" y1="221" x2="369.0" y2="340" stroke="#777" stroke-width="0.9"/>
<line x1="341.0" y1="380" x2="341.0" y2="497.8" stroke="#aaa" stroke-width="0.9"/>
<line x1="207.6" y1="275" x2="207.6" y2="335" stroke="#aaa" stroke-width="0.9"/>
<line x1="502.8" y1="420" x2="502.8" y2="450" stroke="#999" stroke-width="1.0"/>
<line x1="502.8" y1="448" x2="502.8" y2="497.3" stroke="#111" stroke-width="1.2"/>
<line x1="440" y1="497.3" x2="465" y2="497.3" stroke="#999" stroke-width="1.0"/>
<line x1="463" y1="497.3" x2="503.4" y2="497.3" stroke="#111" stroke-width="1.2"/>
<polygon points="226.5,18.9 216.9,27.6 207.3,37.2 200.0,46.3 193.0,50.0 186.0,52.2 179.0,57.0 172.5,65.0 165.5,69.0 159.2,72.2 152.0,74.8 146.0,78.0 140.0,81.5 136.0,84.5 136.0,90.5 140.0,94.0 143.0,97.5 147.0,100.5 150.5,104.0 154.0,107.5 157.0,109.0 160.0,107.5 162.5,104.0 164.8,100.0 167.5,96.0 170.5,92.0 174.0,88.0 177.0,82.0 182.0,74.0 187.3,67.5 192.5,61.3 197.4,56.0 205.0,46.3 210.7,38.8 216.6,32.0 221.7,26.4 228.0,20.6" fill="#000"/>
<path d="M204.8 41.3h0M194.0 49.7h0M221.2 28.4h0M171.1 91.3h0M175.4 85.5h0M223.3 24.6h0M154.5 72.7h0M206.5 45.1h0M208.9 35.9h0M174.4 86.1h0M225.6 19.5h0M213.3 34.2h0M194.3 50.7h0M217.4 26.7h0M161.9 70.3h0M218.0 26.2h0M182.2 73.3h0M204.7 47.1h0M217.3 28.9h0M147.2 100.5h0M173.8 63.7h0M134.6 86.1h0M214.4 33.3h0M185.5 71.9h0M192.4 61.7h0M204.4 41.5h0M186.3 66.8h0M226.5 21.6h0M208.6 35.5h0M145.6 97.0h0M224.6 19.7h0M162.4 71.1h0M163.3 68.3h0M211.0 33.5h0M178.1 82.4h0M203.2 41.0h0M180.9 75.8h0M193.7 60.2h0M143.6 97.7h0M176.6 63.9h0M167.3 68.7h0M175.7 83.5h0M213.1 30.8h0M195.1 49.5h0M214.8 33.5h0M153.7 74.5h0M207.7 41.9h0M189.5 64.2h0M155.5 108.0h0M145.5 100.2h0M150.1 75.5h0M136.9 85.0h0M138.7 83.2h0M205.9 45.6h0M139.4 92.9h0M151.8 104.0h0M179.6 77.7h0M208.4 39.9h0M186.3 68.4h0M149.9 76.2h0M183.7 53.7h0M225.3 18.0h0M210.0 40.2h0M151.7 76.1h0M173.0 89.4h0M200.2 46.0h0M150.4 76.8h0M161.1 70.1h0M221.7 26.0h0M218.5 29.5h0M163.5 102.8h0M142.6 80.3h0M215.6 33.8h0M148.7 101.5h0M194.0 58.6h0M177.8 78.3h0M198.9 46.7h0M207.7 42.9h0M219.7 24.5h0M204.0 40.0h0M206.4 42.7h0M223.6 22.4h0M214.0 34.1h0M153.7 74.5h0M210.1 41.5h0M211.8 39.1h0M138.4 83.7h0M187.2 66.5h0M175.2 63.3h0M167.1 68.6h0M179.3 58.6h0M222.0 23.2h0M164.0 70.1h0M224.8 20.4h0M174.5 62.7h0M148.2 76.6h0M191.6 51.3h0M208.8 40.6h0M207.8 40.5h0M147.8 76.3h0M181.2 74.8h0M146.8 78.1h0M212.4 31.2h0M206.5 45.1h0M195.1 50.5h0M188.9 50.9h0M164.8 97.9h0M145.6 76.5h0M175.9 59.7h0M210.0 41.2h0M219.2 28.8h0M179.0 77.0h0M218.5 24.4h0M174.9 63.1h0M222.4 25.2h0M151.5 75.0h0M218.4 29.0h0M186.4 68.6h0M215.6 29.7h0M160.5 71.7h0M197.4 56.6h0M209.6 40.4h0M177.7 56.5h0M175.3 84.2h0M223.2 21.1h0M161.6 103.6h0M224.2 24.0h0M163.3 101.5h0M170.9 93.0h0M149.6 103.2h0M136.7 88.6h0M180.0 75.8h0M157.8 109.7h0M203.6 40.4h0M165.5 99.3h0M204.0 40.8h0M167.0 67.5h0M216.8 26.2h0M188.2 67.6h0M216.2 32.4h0M199.9 52.2h0M226.5 19.6h0M185.6 67.0h0M168.5 92.0h0M208.7 35.1h0M137.2 90.8h0M213.5 30.8h0M178.4 78.8h0M216.5 32.2h0M183.4 53.4h0M183.0 56.6h0M199.4 46.4h0M141.5 97.6h0M227.3 21.2h0M174.3 87.3h0M158.8 109.6h0M187.8 49.8h0M225.5 22.0h0M204.4 41.8h0M201.0 45.1h0M184.0 72.6h0M164.1 101.1h0M174.4 62.9h0M203.6 43.4h0M153.0 73.9h0M206.3 39.6h0M210.9 39.9h0M177.1 80.6h0M184.8 70.2h0M163.7 70.1h0M167.5 95.1h0M197.3 56.3h0M135.7 85.6h0M161.3 104.6h0M145.7 101.1h0M136.3 86.0h0M193.3 60.2h0M173.5 65.4h0M152.1 74.2h0M223.5 20.8h0M154.4 106.2h0M214.6 35.1h0M159.7 106.5h0M198.3 48.3h0M165.7 100.9h0M214.6 32.5h0M204.3 40.6h0M184.0 71.6h0M211.9 32.6h0M208.4 34.9h0M208.7 35.8h0M152.0 108.6h0M182.6 55.6h0M167.7 94.0h0M213.5 31.2h0M159.0 108.6h0M209.5 32.2h0M136.3 86.6h0M181.0 54.0h0M155.9 71.7h0M163.8 100.5h0M175.6 59.3h0M166.5 70.2h0M147.5 103.2h0M151.8 74.3h0M136.2 87.3h0M158.1 108.2h0M148.3 78.5h0M224.4 21.9h0M184.3 71.4h0M145.4 79.3h0M164.3 72.2h0M142.1 81.3h0M151.7 104.0h0M214.1 34.7h0M194.7 47.5h0M159.2 72.8h0M228.4 21.8h0M226.0 22.5h0M172.3 65.0h0M191.8 63.8h0M165.5 69.7h0M222.2 22.3h0M206.0 38.0h0M197.5 57.8h0M150.9 103.3h0M143.2 82.2h0M206.1 41.2h0M174.5 86.8h0M144.4 98.1h0M191.7 62.3h0M158.8 107.6h0M216.1 29.9h0M203.7 47.4h0M184.0 70.7h0M201.0 53.2h0M179.5 55.3h0M176.7 83.5h0M189.8 52.3h0M175.0 86.2h0M209.9 36.3h0M204.8 41.0h0M181.8 56.3h0M152.9 75.0h0M208.8 33.9h0M198.2 55.0h0M227.8 20.0h0M226.4 19.6h0M198.3 54.4h0M167.9 64.2h0M187.6 51.8h0M175.2 60.9h0M147.6 99.2h0M145.9 78.4h0M212.6 37.0h0M158.7 73.9h0M204.6 40.4h0M148.1 77.4h0M201.6 52.5h0M178.5 59.2h0M137.8 86.5h0M136.5 92.9h0M122.2 93.4h0M130.8 84.5h0M135.9 87.6h0M129.2 90.0h0M138.6 88.9h0M132.1 88.6h0M140.0 87.6h0M127.4 88.7h0M137.9 86.0h0M134.4 87.9h0M134.2 89.9h0M139.1 91.4h0M139.7 88.0h0M139.0 88.3h0M134.9 82.4h0M134.5 83.1h0M128.2 90.5h0M139.9 90.2h0M127.4 92.5h0M134.6 97.9h0M135.6 89.1h0M138.3 86.5h0M136.7 93.1h0M132.4 86.0h0M133.8 90.1h0M137.5 91.7h0M136.1 87.2h0M139.6 87.7h0M133.6 88.3h0M120.1 87.5h0M128.0 93.9h0M130.7 91.4h0M135.1 84.9h0M133.8 89.1h0M137.2 87.7h0M128.4 89.3h0M138.7 86.9h0M118.3 88.9h0M134.8 87.7h0M131.7 88.4h0M139.4 86.3h0M134.4 89.9h0M138.3 87.8h0M137.2 93.0h0M130.3 89.6h0M134.7 84.9h0M128.5 89.1h0M139.8 88.5h0M117.0 87.5h0M129.6 92.6h0M136.7 96.5h0M133.6 92.7h0M132.4 83.7h0M128.4 90.3h0M138.7 90.2h0M135.2 86.8h0M135.5 87.4h0M139.8 86.9h0M133.3 82.0h0M113.5 82.7h0M137.7 90.0h0M139.5 87.9h0M137.1 93.5h0M139.6 91.2h0M136.1 86.8h0M132.2 85.5h0M136.8 90.7h0M133.9 88.0h0M118.6 81.9h0M137.9 85.7h0M137.4 85.4h0M139.6 86.5h0M137.3 90.1h0M137.5 91.0h0M138.9 92.9h0M137.7 87.2h0M131.6 79.5h0M137.2 90.8h0M138.5 88.7h0M131.2 86.2h0M136.2 89.6h0M130.4 90.7h0M137.8 87.8h0M137.8 87.1h0M127.4 84.5h0M130.9 84.7h0M128.5 86.9h0M124.0 86.5h0M129.0 80.2h0M134.0 89.3h0M126.3 88.3h0M122.3 88.2h0M130.5 89.9h0M138.8 86.0h0M127.7 86.8h0M138.8 90.6h0M116.6 83.5h0M139.5 90.3h0M135.9 85.3h0M128.7 91.1h0M113.0 80.9h0M123.4 95.1h0M138.2 86.4h0M128.6 89.9h0M137.2 88.4h0M133.9 90.8h0M119.3 83.9h0M121.8 89.2h0M132.9 90.0h0M118.9 90.1h0M139.3 83.8h0M138.5 92.9h0M132.6 88.2h0M128.2 93.0h0M139.0 89.4h0M124.5 85.7h0M139.9 85.5h0M138.9 87.8h0M130.6 81.3h0M133.5 89.4h0M135.3 87.0h0M134.3 90.5h0M132.1 85.6h0M139.6 87.1h0M137.2 83.3h0M139.8 85.4h0M137.6 87.9h0M138.0 86.9h0M138.6 85.1h0M135.6 85.7h0M136.4 88.1h0M138.8 83.6h0M138.6 93.6h0M136.7 87.7h0M137.1 79.6h0M133.3 92.1h0M139.7 82.2h0M120.9 88.5h0M128.3 91.2h0M129.1 89.6h0M126.0 91.9h0M138.9 91.8h0M129.1 87.3h0M125.4 85.4h0M124.9 84.7h0M138.6 88.6h0M137.5 85.7h0M130.6 90.8h0M134.1 87.9h0M136.2 86.6h0M125.8 90.8h0M133.6 87.1h0M129.7 89.1h0M125.1 92.2h0M138.3 90.8h0M132.3 85.6h0M126.6 89.4h0M139.3 92.1h0M139.5 88.0h0M138.8 82.3h0M122.9 86.2h0M119.7 86.1h0M137.2 88.3h0M134.5 95.6h0M138.2 90.3h0M134.5 86.5h0M129.4 88.5h0M108.6 84.5h0M107.5 90.2h0M120.6 89.3h0M111.8 91.1h0M116.2 90.9h0M109.5 90.9h0M125.9 87.2h0M108.7 83.1h0M113.7 87.4h0M127.7 85.2h0M126.3 89.4h0M107.6 87.1h0M108.6 86.6h0M126.1 84.5h0M107.6 87.8h0M112.7 86.2h0M127.3 86.7h0M126.7 90.4h0M124.2 84.1h0M113.1 86.2h0M113.1 86.2h0M124.3 90.3h0M158.5 132.4h0M153.3 116.2h0M154.9 118.7h0M158.9 123.3h0M156.7 123.3h0M160.1 134.0h0M153.8 130.9h0M158.8 114.8h0M160.6 113.3h0M161.2 126.9h0M157.9 133.5h0M161.3 132.8h0M150.8 126.9h0M155.5 132.3h0M156.5 112.2h0M158.9 127.9h0M155.4 115.0h0M158.4 127.0h0M159.1 127.9h0M161.7 127.7h0M158.3 122.8h0M155.5 129.7h0M158.0 129.3h0M160.5 133.7h0M155.1 113.2h0M159.4 121.0h0M158.3 123.5h0M160.1 131.1h0M158.8 116.9h0M159.2 135.2h0M156.9 105.4h0M157.2 113.9h0M149.8 107.2h0M155.4 116.8h0M153.6 110.4h0M155.1 116.8h0M159.0 110.0h0M153.8 117.6h0M148.4 109.5h0M148.9 110.2h0M156.7 116.7h0M151.3 117.2h0M153.5 113.1h0M154.5 115.3h0M154.2 113.0h0M153.1 110.4h0M159.2 114.1h0M155.8 108.0h0M151.4 114.6h0M150.1 110.0h0M150.9 112.9h0M157.3 118.7h0M157.0 108.5h0M156.0 105.7h0M153.5 119.7h0M155.9 113.2h0M153.8 109.3h0M148.9 106.7h0M154.5 118.8h0M151.5 112.7h0M151.7 114.2h0M148.8 111.2h0M133.8 98.8h0M131.5 103.4h0M131.3 100.2h0M132.8 99.1h0M131.4 104.5h0M135.2 105.3h0M132.8 104.5h0M134.4 98.2h0M137.9 105.3h0M135.0 101.2h0M174.2 38.5h0M175.5 38.8h0M198.0 35.0h0M161.2 53.3h0M161.8 53.5h0M143.0 84.0h0M127.0 80.0h0M114.0 87.0h0M109.0 89.0h0M128.0 108.0h0M133.0 110.0h0M147.0 115.0h0M151.0 124.0h0M149.0 133.0h0M158.0 135.0h0M161.0 134.0h0M178.0 46.0h0M182.0 52.0h0M172.0 55.0h0" stroke="#000" stroke-width="1.9" stroke-linecap="round" fill="none" opacity="1"/>
<path d="M164.4 100.2h0M165.3 106.1h0M157.1 99.0h0M157.1 108.0h0M151.5 99.8h0M145.2 99.9h0M152.0 108.0h0M143.4 103.5h0M151.6 103.4h0M154.6 104.9h0M146.9 107.7h0M154.4 102.9h0M165.1 106.8h0M145.9 109.7h0M155.9 102.7h0M147.7 99.7h0M147.9 102.2h0M150.3 109.9h0M156.2 101.1h0M150.9 103.8h0M144.0 104.2h0M154.2 109.0h0M140.3 91.6h0M142.8 85.9h0M141.7 88.9h0M137.6 84.3h0M146.0 85.0h0M144.9 88.0h0M136.8 94.6h0M142.6 88.4h0" stroke="#fff" stroke-width="1.1" stroke-linecap="round" fill="none" opacity="1"/>
<path d="M156.3 112.5h0M153.6 112.6h0M145.8 106.1h0M159.5 115.0h0M151.2 113.6h0M158.1 113.6h0M156.8 110.7h0M153.3 111.6h0M158.2 104.7h0M152.3 113.8h0M148.9 107.8h0M156.0 105.5h0M153.2 107.1h0M149.9 112.9h0M149.8 108.9h0M148.1 104.8h0M159.9 105.6h0M156.1 112.6h0M161.0 110.1h0M148.8 110.7h0M152.3 109.5h0M154.3 104.2h0M154.3 113.8h0M147.7 113.6h0M153.2 111.7h0M151.9 112.8h0M148.6 108.1h0M150.6 113.3h0M147.9 105.2h0M152.3 104.2h0M153.4 115.0h0M151.4 113.1h0M155.0 107.3h0M160.7 114.6h0M154.4 109.2h0M147.9 104.8h0M139.9 106.7h0M146.6 107.6h0M148.7 108.6h0M140.2 98.5h0M150.1 103.1h0M140.9 100.5h0M148.7 107.8h0M143.8 109.0h0M145.8 106.7h0M151.2 104.2h0M148.7 108.8h0M146.6 103.6h0M142.5 103.4h0" stroke="#000" stroke-width="1.9" stroke-linecap="round" fill="none" opacity="1"/>
<polygon points="389.5,18.3 392.0,20.0 384.0,31.5 372.0,43.5 362.8,52.7 355.0,58.5 345.5,68.0 338.0,77.7 329.5,86.0 319.2,95.4 312.4,103.4 310.2,108.5 306.0,109.5 300.5,107.5 299.0,100.0 300.5,96.5 305.0,95.8 309.6,93.0 314.0,89.6 316.5,81.8 320.0,79.6 327.0,75.0 334.5,68.5 344.8,59.0 351.5,52.5 358.0,49.4 366.5,40.5 377.5,32.0 384.5,23.5" fill="#000"/>
<path d="M346.5 67.9h0M335.7 78.8h0M375.9 33.5h0M380.4 35.7h0M306.3 109.8h0M326.3 75.2h0M372.6 42.3h0M318.2 96.8h0M346.1 57.5h0M384.5 32.0h0M317.6 97.9h0M374.3 33.1h0M299.6 98.3h0M346.7 68.5h0M350.4 55.5h0M372.4 35.7h0M315.3 86.5h0M352.0 52.1h0M366.9 41.0h0M326.8 74.7h0M376.1 40.2h0M373.1 42.2h0M315.8 85.8h0M367.7 47.4h0M333.2 69.1h0M362.7 44.2h0M370.3 45.9h0M344.1 61.2h0M348.4 55.4h0M328.8 72.8h0M384.0 29.9h0M393.5 19.7h0M328.4 85.5h0M361.9 44.1h0M346.4 57.3h0M352.0 61.5h0M384.8 22.9h0M314.6 101.8h0M370.2 37.1h0M390.5 21.2h0M330.7 71.3h0M387.9 24.4h0M325.2 76.9h0M357.9 56.0h0M342.7 71.6h0M307.8 109.9h0M328.7 86.5h0M358.0 56.7h0M378.7 30.8h0M385.6 22.1h0M360.4 53.2h0M312.6 102.6h0M383.5 31.8h0M350.9 53.2h0M366.1 50.5h0M343.5 70.9h0M373.2 35.2h0M331.0 85.2h0M347.5 56.8h0M379.3 36.4h0M391.1 20.6h0M390.6 20.5h0M367.3 49.5h0M374.6 33.6h0M350.5 54.9h0M386.4 21.1h0M342.3 62.3h0M334.9 69.2h0M351.3 52.5h0M374.8 41.8h0M341.3 73.3h0M316.3 84.1h0M375.7 34.0h0M387.2 26.7h0M363.1 52.7h0M335.0 81.5h0M388.0 26.4h0M376.7 32.2h0M312.3 92.0h0M370.4 36.7h0M365.6 42.3h0M328.5 87.3h0M298.4 104.6h0M351.3 52.9h0M355.8 49.9h0M347.8 65.5h0M345.3 59.2h0M382.4 25.5h0M368.0 46.9h0M371.4 43.2h0M346.0 67.7h0M380.6 36.0h0M373.9 41.2h0M362.5 53.5h0M344.2 60.1h0M330.9 85.6h0M361.6 53.3h0M311.9 105.2h0M352.0 60.9h0M298.3 102.5h0M299.8 96.5h0M310.9 92.0h0M309.1 94.2h0M344.4 58.9h0M325.1 89.1h0M354.6 58.3h0M341.3 73.0h0M363.9 51.5h0M386.6 26.3h0M314.0 102.3h0M379.2 36.1h0M351.7 60.7h0M300.3 108.2h0M299.7 105.2h0M309.6 91.6h0M357.0 57.6h0M367.8 48.1h0M362.2 45.1h0M348.8 54.7h0M318.7 80.7h0M322.7 92.4h0M338.0 79.2h0M317.1 81.1h0M320.7 93.5h0M364.4 44.1h0M351.3 61.5h0M351.2 52.5h0M369.8 46.7h0M367.0 48.6h0M363.0 52.8h0M368.0 40.0h0M384.1 31.9h0M391.0 23.6h0M338.7 77.2h0M358.2 49.9h0M301.3 106.2h0M320.3 93.9h0M346.4 66.1h0M302.6 108.9h0M342.5 61.5h0M316.1 83.2h0M327.2 88.4h0M316.1 84.9h0M390.9 20.9h0M321.3 93.1h0M334.0 68.2h0M377.2 31.3h0M364.0 51.8h0M316.5 97.7h0M379.8 34.0h0M364.1 50.8h0M367.6 48.5h0M303.0 96.9h0M306.3 110.0h0M350.1 53.2h0M377.5 31.6h0M337.4 66.7h0M327.9 88.2h0M310.1 106.2h0M375.3 33.6h0M321.6 77.7h0M343.2 60.9h0M385.0 29.6h0M388.4 20.7h0M312.4 104.1h0M313.5 88.5h0M366.4 48.9h0M321.1 79.3h0M370.5 37.1h0M389.5 21.5h0M313.8 103.3h0M322.7 92.0h0M354.4 57.7h0M327.5 88.0h0M373.9 34.7h0M308.5 93.9h0M306.7 95.0h0M334.1 81.0h0M346.2 58.1h0M308.7 108.6h0M313.4 101.2h0M327.8 74.3h0M342.8 61.1h0M366.9 49.4h0M347.8 55.9h0M319.7 94.1h0M324.2 89.5h0M310.8 93.2h0M345.3 67.2h0M354.6 57.7h0M307.5 95.7h0M347.7 65.6h0M322.1 91.8h0M345.8 67.6h0M372.6 35.5h0M361.2 53.2h0M320.0 78.5h0M380.5 28.4h0M316.5 82.1h0M371.1 37.5h0M286.0 107.9h0M286.7 108.6h0M285.1 102.7h0M285.3 106.0h0M292.0 100.5h0M285.1 108.7h0M292.0 104.3h0M284.2 107.6h0M287.5 106.2h0M295.1 108.8h0M286.8 106.6h0M292.7 101.9h0M294.2 102.1h0M285.1 104.1h0M284.6 108.8h0M284.1 100.4h0M288.0 98.0h0M288.3 102.4h0M289.7 100.4h0M294.4 97.0h0M285.4 104.1h0M290.3 106.9h0M293.4 100.8h0M286.8 101.9h0M290.4 97.5h0M285.0 98.1h0M291.6 104.4h0M287.2 104.7h0M285.3 106.6h0M284.5 107.2h0M287.4 105.3h0M292.8 99.5h0M288.6 101.9h0M290.6 98.2h0M286.4 100.9h0M291.7 100.3h0M292.9 103.3h0M293.1 106.3h0M286.2 106.7h0M288.3 107.2h0M290.0 107.0h0M290.1 97.7h0M293.5 107.4h0M289.1 105.0h0M291.7 100.2h0M294.1 96.7h0M294.7 99.8h0M294.6 106.2h0M295.1 105.3h0M284.3 97.6h0M292.0 106.5h0M294.5 105.5h0M294.4 99.6h0M292.7 105.0h0M292.9 103.2h0M284.0 107.8h0M294.0 108.1h0M293.9 102.3h0M292.1 97.2h0M288.1 102.2h0M293.6 102.4h0M286.6 97.6h0M283.7 100.3h0M288.8 106.3h0M286.3 101.7h0M294.0 99.5h0M286.0 107.3h0M294.2 105.3h0M283.8 97.8h0M286.1 106.7h0M292.7 100.5h0M284.4 106.2h0M289.9 108.4h0M287.6 107.9h0M291.1 100.7h0M292.1 101.5h0M287.9 99.4h0M290.5 102.0h0M292.0 106.6h0M293.6 108.5h0M288.8 97.6h0M287.2 108.8h0M285.0 106.3h0M293.9 103.0h0M286.8 103.5h0M294.5 97.7h0M293.4 100.3h0M286.1 98.4h0M289.3 104.5h0M286.8 103.4h0M290.1 104.5h0M287.8 103.2h0M290.4 102.6h0M284.2 96.9h0M287.8 105.2h0M294.1 103.2h0M289.6 105.5h0M287.2 108.5h0M289.5 100.8h0M291.1 100.9h0M285.5 103.8h0M291.8 105.6h0M293.6 103.6h0M290.7 104.7h0M295.2 101.8h0M288.5 103.9h0M283.6 97.6h0M290.7 106.1h0M291.2 100.6h0M291.4 107.8h0M294.3 107.5h0M284.6 97.2h0M285.2 104.4h0M294.8 98.5h0M288.2 106.4h0M293.6 106.6h0M292.2 106.4h0M292.9 103.7h0M289.8 103.4h0M291.3 105.0h0M294.1 105.3h0M285.9 100.9h0M288.3 100.6h0M285.5 104.2h0M286.4 100.8h0M290.1 107.0h0M294.4 103.3h0M294.9 101.4h0M285.1 103.7h0M293.7 96.7h0M290.4 98.3h0M293.8 106.1h0M291.4 107.6h0M292.6 103.0h0M287.7 100.2h0M293.5 97.6h0M289.2 100.9h0M289.5 102.2h0M286.6 98.8h0M287.4 98.2h0M285.6 103.6h0M286.5 98.5h0M293.9 102.3h0M291.8 103.8h0M287.7 107.7h0M290.9 105.9h0M295.1 106.2h0M295.0 107.2h0M292.8 101.0h0M290.5 102.1h0M292.8 106.9h0M286.7 101.6h0M292.5 98.9h0M286.1 103.3h0M292.3 100.6h0M290.4 99.5h0M288.0 105.7h0M283.6 98.2h0M284.7 103.8h0M286.9 106.4h0M293.6 106.2h0M286.7 107.0h0M293.4 105.9h0M289.3 104.9h0M290.1 107.8h0M294.9 98.7h0M285.9 97.4h0M286.0 109.5h0M284.8 101.9h0M295.1 98.9h0M285.7 101.7h0M293.1 105.2h0M290.8 98.6h0M287.6 104.6h0M287.3 101.5h0M287.7 106.4h0M291.1 98.5h0M293.4 102.6h0M285.5 103.4h0M294.2 103.8h0M289.1 108.5h0M284.2 108.0h0M286.8 106.1h0M294.5 107.5h0M292.0 104.2h0M288.6 105.5h0M291.3 105.0h0M283.5 97.3h0M287.6 103.6h0M293.1 100.7h0M295.1 99.5h0M294.8 105.7h0M285.7 99.9h0M287.0 99.8h0M289.2 99.7h0M291.9 106.8h0M291.7 103.1h0M284.8 102.3h0M284.7 103.7h0M291.4 104.0h0M288.5 104.3h0M284.4 99.9h0M291.5 99.6h0M294.5 100.1h0M292.5 104.1h0M287.8 105.8h0M285.2 99.5h0M287.4 107.0h0M287.0 98.5h0M293.4 98.5h0M286.1 108.3h0M291.5 102.4h0M288.1 101.1h0M293.7 99.5h0M284.3 107.3h0M293.0 101.6h0M290.7 101.3h0M295.1 105.0h0M289.9 106.6h0M284.9 97.4h0M290.1 107.6h0M286.7 99.0h0M286.5 97.8h0M286.8 108.1h0M285.9 102.3h0M295.6 107.9h0M293.0 100.7h0M292.0 101.3h0M288.9 103.3h0M295.1 101.5h0M291.1 106.6h0M285.6 102.6h0M287.6 99.3h0M287.5 106.5h0M291.1 103.3h0M286.1 102.6h0M285.2 104.0h0M285.7 107.2h0M286.0 97.4h0M290.0 100.2h0M295.8 105.8h0M289.8 106.0h0M290.2 105.3h0M288.1 102.4h0M286.3 103.5h0M288.7 98.2h0M290.8 105.7h0M284.2 97.7h0M293.8 98.0h0M295.8 107.6h0M287.3 105.7h0M287.5 100.8h0M286.6 103.1h0M289.0 102.3h0M290.4 103.8h0M290.4 97.7h0M284.2 107.3h0M293.2 102.4h0M294.0 98.6h0M292.3 103.7h0M308.8 101.2h0M302.0 98.1h0M304.8 102.3h0M303.3 106.3h0M300.1 105.7h0M311.1 107.0h0M300.6 98.2h0M302.8 100.9h0M308.3 103.2h0M307.1 100.8h0M309.4 99.8h0M302.1 109.3h0M306.0 109.0h0M301.0 107.4h0M300.8 103.7h0M308.0 102.8h0M309.3 105.2h0M303.7 107.6h0M308.1 108.7h0M305.9 109.2h0M304.8 100.0h0M301.9 107.6h0M307.9 102.5h0M303.5 107.5h0M300.7 104.3h0M308.9 100.7h0M303.7 97.8h0M302.9 108.5h0M305.0 102.7h0M306.3 101.6h0M306.5 105.9h0M301.2 102.7h0M301.6 95.9h0M309.6 102.7h0M301.4 109.7h0M305.9 108.7h0M303.0 105.5h0M308.9 106.5h0M308.1 99.0h0M301.2 106.8h0M301.3 99.6h0M305.4 99.0h0M300.9 101.0h0M302.7 100.4h0M304.5 106.8h0M307.4 104.7h0M303.0 100.7h0M304.0 100.9h0M308.3 99.1h0M304.2 106.0h0M305.8 99.8h0M300.1 105.1h0M308.6 109.1h0M310.6 106.5h0M310.1 103.8h0M299.5 97.2h0M301.7 96.3h0M309.7 103.0h0M304.7 99.4h0M308.6 102.7h0M308.6 107.1h0M305.1 97.8h0M310.7 103.3h0M305.1 100.3h0M300.8 110.4h0M300.4 107.6h0M307.6 98.1h0M302.2 101.0h0M309.4 101.0h0M307.4 103.3h0M302.6 107.0h0M299.1 98.2h0M310.0 106.8h0M305.4 105.3h0M302.8 99.3h0M303.9 105.9h0M308.2 107.3h0M302.5 107.5h0M303.5 103.0h0M303.6 100.2h0M305.9 98.1h0M303.1 99.0h0M307.9 108.6h0M302.7 109.8h0M304.2 98.1h0M308.1 98.6h0M310.1 107.2h0M307.5 106.7h0M304.5 108.9h0M308.7 102.8h0M302.5 98.8h0M307.2 108.3h0M303.2 101.4h0M301.3 97.6h0M302.4 106.3h0M304.2 101.7h0M309.0 104.1h0M308.8 109.6h0M307.8 103.2h0M299.2 96.8h0M306.1 98.0h0M309.7 106.2h0M302.2 107.1h0M305.8 100.6h0M301.0 108.3h0M299.1 97.5h0M300.4 103.0h0M301.7 103.7h0M301.5 103.8h0M302.4 96.8h0M309.3 99.4h0M306.2 107.3h0M307.7 108.0h0M305.8 98.9h0M309.7 103.7h0M311.6 108.4h0M302.9 109.3h0M309.6 107.2h0M311.0 108.7h0M307.6 106.4h0M303.7 108.0h0M307.9 101.4h0M304.0 105.3h0M303.6 106.6h0M301.6 97.5h0M303.5 106.3h0M300.6 108.2h0M303.4 108.4h0M310.1 104.6h0M307.0 106.2h0M300.6 96.2h0M302.5 102.5h0M303.4 100.7h0M302.0 104.0h0M301.5 108.8h0M309.8 108.7h0M304.6 99.7h0M304.5 107.0h0M301.0 97.2h0M304.5 104.9h0M308.2 101.1h0M301.2 108.3h0M308.0 102.0h0M307.5 102.0h0M309.9 105.6h0M306.0 106.1h0M301.9 101.7h0M307.7 100.4h0M304.1 106.7h0M307.1 105.7h0M300.1 103.6h0M299.5 96.9h0M308.0 104.9h0M303.8 102.8h0M305.4 102.4h0M301.5 105.2h0M309.3 102.6h0M308.4 108.2h0M310.4 109.8h0M307.0 106.2h0M299.2 97.8h0M302.4 98.6h0M307.1 106.1h0M308.2 99.8h0M303.3 101.8h0M307.2 99.3h0M307.2 105.1h0M305.6 106.8h0M306.4 106.5h0M306.0 100.9h0M300.1 101.8h0M307.8 101.2h0M303.3 104.3h0M300.5 96.2h0M307.0 102.8h0M299.6 97.7h0M302.6 104.8h0M309.8 106.6h0M305.0 99.2h0M309.5 107.1h0M304.7 99.0h0M301.6 108.9h0M308.0 106.5h0M302.2 97.5h0M310.3 104.7h0M304.4 100.1h0M308.9 107.0h0M307.8 106.6h0M310.1 109.8h0M301.3 108.1h0M304.4 101.8h0M303.2 102.6h0M304.6 99.6h0M309.2 100.8h0M302.8 105.9h0M299.0 97.2h0M308.6 103.8h0M302.8 106.1h0M302.0 106.0h0M307.1 100.4h0M301.2 106.0h0M304.2 105.6h0M309.9 100.7h0M301.0 96.0h0M300.9 96.1h0M300.3 103.9h0M307.8 108.1h0M304.3 106.8h0M301.0 98.9h0M306.7 109.2h0M300.5 103.3h0M309.5 102.0h0M302.9 100.4h0M306.0 103.1h0M301.4 98.4h0M303.1 108.0h0M301.2 103.9h0M303.6 105.4h0M301.0 101.1h0M302.6 99.4h0M308.5 107.7h0M309.0 103.5h0M301.8 98.2h0M304.4 102.4h0M302.2 102.3h0M300.4 99.6h0M303.8 99.1h0M304.3 107.0h0M299.5 108.5h0M305.6 106.5h0M305.0 101.7h0M303.7 101.4h0M309.2 105.7h0M298.8 98.6h0M310.2 107.5h0M309.0 101.8h0M310.7 104.1h0M304.5 106.0h0M305.9 98.8h0M300.8 103.9h0M291.6 115.3h0M292.9 119.0h0M294.1 122.0h0M289.7 114.3h0M292.1 118.9h0M291.0 119.1h0M293.4 117.3h0M287.7 114.5h0M285.8 123.2h0M293.3 119.8h0M284.2 116.6h0M286.2 122.6h0M286.2 121.9h0M293.0 121.0h0M287.2 117.4h0M293.2 122.5h0M286.5 117.4h0M288.4 115.8h0M290.4 117.0h0M289.5 118.8h0M288.1 121.7h0M288.6 116.1h0M287.2 118.6h0M289.3 122.3h0M290.4 122.2h0M287.5 118.4h0M287.2 119.0h0M288.2 114.7h0M293.6 123.9h0M290.2 122.8h0M283.9 123.2h0M290.0 121.3h0M286.2 123.2h0M289.4 118.5h0M283.7 116.3h0M286.5 121.6h0M292.3 117.1h0M294.7 114.3h0M287.4 119.7h0M295.6 115.3h0M292.4 115.9h0M291.4 120.5h0M292.9 122.0h0M293.2 123.4h0M289.6 115.8h0M295.0 114.4h0M293.9 117.6h0M288.2 120.7h0M290.9 120.7h0M286.2 123.8h0M286.2 123.3h0M287.7 120.4h0M293.0 113.7h0M293.5 116.5h0M288.9 119.4h0M286.5 120.9h0M283.5 123.2h0M288.1 120.3h0M289.7 118.5h0M284.1 118.4h0M287.9 118.1h0M282.1 118.3h0M287.0 119.0h0M291.4 123.2h0M288.7 116.8h0M287.4 117.1h0M290.7 120.2h0M288.5 118.3h0M286.1 116.6h0M292.2 118.5h0M292.8 118.1h0M295.9 114.2h0M286.4 118.0h0M285.5 118.1h0M287.5 117.5h0M288.2 120.0h0M285.2 119.5h0M292.0 116.5h0M292.1 119.3h0M286.5 118.8h0M284.2 115.9h0M294.6 115.3h0M290.1 117.0h0M288.6 115.5h0M284.1 116.7h0M283.5 116.2h0M286.3 121.7h0M289.2 114.7h0M293.8 119.6h0M288.4 114.4h0M283.9 122.5h0M292.7 119.7h0M293.8 115.2h0M285.4 119.4h0M294.8 115.1h0M288.2 117.0h0M293.3 113.7h0M291.2 119.9h0M288.6 120.4h0M292.3 117.1h0M283.7 123.5h0M294.3 122.9h0M283.8 123.6h0M293.2 122.9h0M289.9 119.2h0M292.0 120.3h0M286.0 121.4h0M291.0 120.7h0M293.3 116.0h0M292.4 119.3h0M284.3 121.6h0M288.7 121.0h0M291.7 120.6h0M283.1 118.5h0M286.7 116.8h0M288.2 118.5h0M287.8 115.4h0M286.9 115.1h0M292.5 119.0h0M286.6 118.9h0M288.7 119.1h0M288.4 114.9h0M292.5 120.7h0M290.6 117.3h0M291.7 116.2h0M284.8 117.5h0M288.3 122.1h0M285.7 118.2h0M289.4 116.0h0M285.8 120.7h0M294.0 115.4h0M293.5 123.0h0M285.9 119.6h0M288.9 119.2h0M295.4 114.2h0M283.4 116.1h0M293.3 119.2h0M295.0 115.6h0M288.9 118.9h0M291.5 122.4h0M294.1 114.3h0M287.4 117.9h0M288.7 119.3h0M282.5 117.6h0M291.0 116.4h0M294.2 122.7h0M282.3 117.9h0M283.3 123.4h0M290.2 122.4h0M286.2 118.9h0M283.1 118.4h0M288.6 122.4h0M290.1 114.9h0M291.5 121.6h0M291.7 118.5h0M294.9 116.2h0M289.7 120.7h0M288.1 121.4h0M287.8 120.7h0M288.1 122.3h0M292.5 122.3h0M284.0 122.4h0M292.4 115.2h0M287.7 122.5h0M292.2 121.2h0M294.1 122.7h0M287.8 117.2h0M292.6 123.5h0M293.5 119.3h0M284.8 122.7h0M282.5 116.7h0M287.9 119.0h0M285.1 118.9h0M293.4 113.5h0M295.6 114.0h0M292.7 115.3h0M292.7 122.4h0M290.6 118.1h0M283.5 117.0h0M293.7 123.9h0M290.2 117.2h0M281.5 117.2h0M290.3 119.5h0M294.5 114.9h0M285.8 120.2h0M290.5 118.1h0M292.9 118.4h0M292.4 120.2h0M288.5 114.2h0M286.2 116.3h0M293.1 116.9h0M292.3 116.6h0M285.6 117.1h0M285.1 118.2h0M287.7 119.2h0M285.1 116.3h0M292.8 123.7h0M284.9 118.3h0M293.7 123.3h0M286.1 119.2h0M292.2 121.1h0M292.8 116.8h0M281.3 117.9h0M287.7 116.2h0M292.8 114.0h0M283.3 122.6h0M286.8 121.8h0M284.8 123.9h0M292.9 120.1h0M286.0 120.8h0M281.7 117.4h0M289.7 120.9h0M290.1 120.3h0M293.8 115.6h0M287.0 118.0h0M294.4 113.9h0M293.9 122.2h0M292.9 117.7h0M293.5 124.0h0M292.1 119.4h0M310.5 113.7h0M307.2 122.9h0M309.6 122.5h0M304.7 114.5h0M305.9 113.7h0M310.7 112.9h0M306.0 116.7h0M307.0 123.0h0M305.9 123.6h0M301.0 125.3h0M303.0 118.8h0M311.6 122.0h0M308.9 114.8h0M309.9 123.1h0M310.6 116.1h0M310.0 114.6h0M307.0 121.7h0M302.6 116.9h0M302.6 122.8h0M303.2 122.5h0M312.7 124.4h0M302.0 122.3h0M300.9 119.5h0M303.4 115.7h0M307.2 119.5h0M308.7 123.6h0M311.4 115.8h0M301.1 124.2h0M303.8 121.5h0M309.0 116.4h0M310.2 115.6h0M307.6 114.4h0M302.9 115.2h0M308.5 117.0h0M307.4 116.3h0M309.0 120.4h0M303.6 119.9h0M312.0 121.5h0M309.3 120.6h0M310.6 123.2h0M301.4 124.7h0M306.6 116.5h0M306.9 119.6h0M306.9 121.7h0M307.7 118.5h0M303.3 114.7h0M310.9 122.9h0M310.1 123.0h0M310.5 117.0h0M306.8 116.0h0M309.2 114.5h0M312.9 122.6h0M304.2 123.8h0M310.4 119.5h0M310.9 115.7h0M303.2 115.0h0M307.9 119.9h0M301.4 120.3h0M309.3 123.5h0M310.6 118.4h0M314.2 122.6h0M305.6 120.1h0M303.4 115.8h0M309.4 122.6h0M304.6 124.1h0M304.7 123.4h0M307.7 121.4h0M305.8 117.8h0M303.7 115.3h0M312.7 115.6h0M306.2 115.2h0M302.9 122.4h0M308.7 122.5h0M308.6 117.0h0M310.6 116.2h0M310.9 118.9h0M313.9 122.4h0M308.2 114.5h0M303.6 119.6h0M308.4 121.8h0M313.0 123.5h0M307.6 115.7h0M308.6 116.0h0M309.6 123.6h0M311.5 113.2h0M304.9 116.5h0M309.0 123.6h0M303.9 121.7h0M309.6 120.4h0M307.8 116.6h0M305.4 113.8h0M301.5 119.4h0M302.0 119.9h0M310.5 116.5h0M301.9 121.0h0M310.7 113.3h0M301.7 124.5h0M306.6 122.8h0M304.7 116.6h0M309.6 122.7h0M307.7 116.6h0M307.1 115.3h0M301.2 123.5h0M309.6 123.4h0M306.8 119.1h0M302.0 119.9h0M311.9 120.3h0M310.3 119.6h0M302.6 115.2h0M306.7 118.7h0M308.0 117.3h0M313.1 114.5h0M308.7 123.0h0M312.5 114.7h0M310.2 121.8h0M302.4 117.8h0M308.4 114.3h0M307.4 123.5h0M309.2 115.5h0M308.0 122.7h0M305.2 124.0h0M302.6 115.4h0M311.7 120.5h0M307.1 117.8h0M302.9 117.4h0M313.4 123.6h0M305.7 116.3h0M310.3 117.3h0M305.9 116.8h0M306.3 122.1h0M304.1 120.5h0M313.4 122.1h0M307.9 114.4h0M300.9 124.9h0M311.6 124.2h0M308.9 120.0h0M309.8 115.4h0M305.8 119.5h0M311.1 113.1h0M309.4 119.2h0M309.1 119.6h0M302.4 125.8h0M312.6 113.2h0M308.9 118.7h0M308.3 117.6h0M301.2 125.0h0M311.2 118.1h0M308.7 114.3h0M308.7 116.3h0M302.6 125.3h0M309.8 115.9h0M302.4 120.4h0M302.5 121.2h0M303.0 125.4h0M314.0 122.1h0M309.4 116.2h0M311.7 113.1h0M303.4 123.9h0M305.6 118.0h0M312.7 123.2h0M307.7 117.2h0M313.5 122.7h0M304.3 123.0h0M304.3 124.0h0M303.8 124.6h0M310.4 123.1h0M303.5 116.4h0M310.7 118.8h0M304.6 117.4h0M311.4 124.2h0M314.1 123.2h0M308.4 115.8h0M310.8 118.0h0M305.6 121.6h0M309.3 122.4h0M309.2 121.4h0M307.5 120.0h0M310.3 122.5h0M310.9 123.7h0M303.5 115.2h0M302.9 117.1h0M305.7 124.6h0M306.9 118.3h0M301.3 117.8h0M311.3 120.5h0M307.5 113.8h0M307.6 114.4h0M301.9 120.4h0M303.3 116.0h0M304.7 123.8h0M302.2 120.8h0M302.3 118.1h0M303.3 115.7h0M312.1 119.7h0M307.1 120.7h0M303.3 125.6h0M307.0 117.3h0M309.7 123.4h0M310.1 123.4h0M310.0 113.5h0M306.5 121.3h0M306.9 121.5h0M304.4 115.4h0M308.7 120.5h0M309.1 119.4h0M308.5 117.6h0M305.5 118.2h0M310.6 121.3h0M306.9 122.6h0M310.6 118.5h0M308.0 118.1h0M310.5 122.2h0M303.7 123.0h0M308.7 119.6h0M311.8 122.7h0M309.0 116.6h0M301.7 123.8h0M301.8 124.7h0M302.7 119.2h0M305.1 123.1h0M309.9 117.5h0M309.3 118.8h0M309.5 122.0h0M310.9 113.6h0M310.8 117.2h0M307.1 115.0h0M309.5 118.1h0M310.4 117.6h0M306.2 121.1h0M308.5 117.6h0M306.8 116.0h0M301.1 125.5h0M309.0 119.4h0M313.2 121.8h0M308.5 124.1h0M303.4 122.2h0M306.6 123.0h0M310.4 121.2h0M305.2 119.3h0M303.5 117.3h0M304.6 122.3h0M306.5 116.8h0M305.4 123.1h0M312.8 124.4h0M302.6 117.7h0M303.8 118.4h0M305.4 116.1h0M303.3 125.3h0M303.6 116.2h0M305.6 117.5h0M302.1 126.1h0M308.6 121.6h0M305.1 115.2h0M305.5 121.7h0M302.5 124.4h0M306.5 117.0h0M303.8 116.0h0M311.4 112.7h0M302.8 124.5h0M308.7 115.7h0M273.2 98.3h0M280.6 95.1h0M285.2 94.5h0M308.0 80.6h0M303.4 90.5h0M316.7 81.5h0M311.0 125.4h0M313.5 61.3h0M334.2 55.6h0M307.7 80.6h0M309.7 133.8h0M279.0 121.0h0M283.0 125.5h0M296.0 116.0h0M293.0 125.0h0" stroke="#000" stroke-width="2.6" stroke-linecap="round" fill="none" opacity="1"/>
<path d="M273.2 98.3h0M313.5 61.3h0M334.2 55.6h0M307.7 80.6h0M309.7 133.8h0M394.3 18.8h0M303.4 90.5h0" stroke="#000" stroke-width="3.8" stroke-linecap="round" fill="none" opacity="1"/>
</svg></body></html>
